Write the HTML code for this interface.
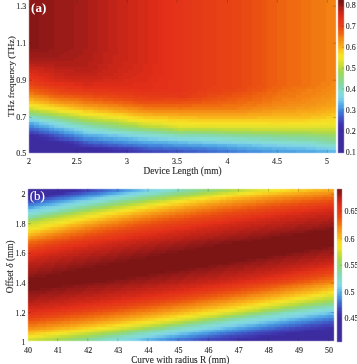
<!DOCTYPE html><html><head><meta charset="utf-8"><title>Figure</title><style>html,body{margin:0;padding:0;background:#fff}svg{display:block}text{font-family:"Liberation Serif",serif;fill:#262626;stroke:#262626;stroke-width:0.1px}</style></head><body><svg width="357" height="364" viewBox="0 0 357 364"><rect width="357" height="364" fill="#fff"/><defs><filter id="soft" x="-2%" y="-2%" width="104%" height="104%" color-interpolation-filters="sRGB"><feConvolveMatrix order="3" kernelMatrix="1 6 1 6 36 6 1 6 1" divisor="64" edgeMode="none" preserveAlpha="false"/></filter></defs><g shape-rendering="crispEdges" filter="url(#soft)"><path fill="#901918" d="M29 -4H53.76V3.054H29zM29 3.054H53.76V6.108H29zM33.95 6.108H53.76V9.162H33.95zM38.9 9.162H53.76V12.22H38.9zM38.9 12.22H53.76V15.27H38.9zM38.9 15.27H53.76V18.32H38.9zM38.9 18.32H53.76V21.38H38.9zM38.9 21.38H53.76V24.43H38.9zM38.9 24.43H53.76V27.49H38.9zM38.9 27.49H53.76V30.54H38.9zM38.9 30.54H53.76V33.59H38.9zM38.9 33.59H53.76V36.65H38.9zM38.9 36.65H53.76V39.7H38.9zM38.9 39.7H53.76V42.76H38.9zM38.9 42.76H53.76V45.81H38.9zM38.9 45.81H53.76V48.86H38.9zM29 48.86H48.81V51.92H29z"/><path fill="#9a1b18" d="M53.76 -4H73.56V3.054H53.76zM53.76 3.054H73.56V6.108H53.76zM53.76 6.108H73.56V9.162H53.76zM53.76 9.162H73.56V12.22H53.76zM53.76 12.22H73.56V15.27H53.76zM53.76 15.27H73.56V18.32H53.76zM53.76 18.32H73.56V21.38H53.76zM53.76 21.38H73.56V24.43H53.76zM53.76 24.43H73.56V27.49H53.76zM53.76 27.49H73.56V30.54H53.76zM53.76 30.54H73.56V33.59H53.76zM53.76 33.59H73.56V36.65H53.76zM53.76 36.65H73.56V39.7H53.76zM53.76 39.7H73.56V42.76H53.76zM53.76 42.76H73.56V45.81H53.76zM53.76 45.81H73.56V48.86H53.76zM48.81 48.86H68.61V51.92H48.81zM29 51.92H63.66V54.97H29zM29 54.97H58.71V58.03H29z"/><path fill="#a51d18" d="M73.56 -4H88.42V3.054H73.56zM73.56 3.054H88.42V6.108H73.56zM73.56 6.108H88.42V9.162H73.56zM73.56 9.162H88.42V12.22H73.56zM73.56 12.22H88.42V15.27H73.56zM73.56 15.27H88.42V18.32H73.56zM73.56 18.32H88.42V21.38H73.56zM73.56 21.38H88.42V24.43H73.56zM73.56 24.43H88.42V27.49H73.56zM73.56 27.49H88.42V30.54H73.56zM73.56 30.54H88.42V33.59H73.56zM73.56 33.59H88.42V36.65H73.56zM73.56 36.65H88.42V39.7H73.56zM73.56 39.7H88.42V42.76H73.56zM73.56 42.76H88.42V45.81H73.56zM73.56 45.81H88.42V48.86H73.56zM68.61 48.86H83.47V51.92H68.61zM63.66 51.92H83.47V54.97H63.66zM58.71 54.97H78.52V58.03H58.71zM29 58.03H73.56V61.08H29z"/><path fill="#af1f18" d="M88.42 -4H98.32V3.054H88.42zM88.42 3.054H98.32V6.108H88.42zM88.42 6.108H98.32V9.162H88.42zM88.42 9.162H98.32V12.22H88.42zM88.42 12.22H98.32V15.27H88.42zM88.42 15.27H98.32V18.32H88.42zM88.42 18.32H98.32V21.38H88.42zM88.42 21.38H98.32V24.43H88.42zM88.42 24.43H98.32V27.49H88.42zM88.42 27.49H98.32V30.54H88.42zM88.42 30.54H98.32V33.59H88.42zM88.42 33.59H98.32V36.65H88.42zM88.42 36.65H98.32V39.7H88.42zM88.42 39.7H98.32V42.76H88.42zM88.42 42.76H98.32V45.81H88.42zM88.42 45.81H98.32V48.86H88.42zM83.47 48.86H98.32V51.92H83.47zM83.47 51.92H93.37V54.97H83.47zM78.52 54.97H93.37V58.03H78.52zM73.56 58.03H93.37V61.08H73.56zM29 61.08H88.42V64.13H29zM53.76 64.13H88.42V67.19H53.76z"/><path fill="#b92118" d="M98.32 -4H108.2V3.054H98.32zM98.32 3.054H108.2V6.108H98.32zM98.32 6.108H108.2V9.162H98.32zM98.32 9.162H108.2V12.22H98.32zM98.32 12.22H108.2V15.27H98.32zM98.32 15.27H108.2V18.32H98.32zM98.32 18.32H108.2V21.38H98.32zM98.32 21.38H108.2V24.43H98.32zM98.32 24.43H108.2V27.49H98.32zM98.32 27.49H108.2V30.54H98.32zM98.32 30.54H108.2V33.59H98.32zM98.32 33.59H108.2V36.65H98.32zM98.32 36.65H108.2V39.7H98.32zM98.32 39.7H108.2V42.76H98.32zM98.32 42.76H108.2V45.81H98.32zM98.32 45.81H108.2V48.86H98.32zM98.32 48.86H108.2V51.92H98.32zM93.37 51.92H103.3V54.97H93.37zM93.37 54.97H103.3V58.03H93.37zM93.37 58.03H103.3V61.08H93.37zM88.42 61.08H103.3V64.13H88.42zM33.95 64.13H53.76V67.19H33.95zM88.42 64.13H98.32V67.19H88.42zM53.76 67.19H98.32V70.24H53.76zM73.56 70.24H93.37V73.3H73.56z"/><path fill="#c22318" d="M108.2 -4H118.1V3.054H108.2zM108.2 3.054H118.1V6.108H108.2zM108.2 6.108H118.1V9.162H108.2zM108.2 9.162H118.1V12.22H108.2zM108.2 12.22H118.1V15.27H108.2zM108.2 15.27H118.1V18.32H108.2zM108.2 18.32H118.1V21.38H108.2zM108.2 21.38H118.1V24.43H108.2zM108.2 24.43H118.1V27.49H108.2zM108.2 27.49H118.1V30.54H108.2zM108.2 30.54H118.1V33.59H108.2zM108.2 33.59H118.1V36.65H108.2zM108.2 36.65H118.1V39.7H108.2zM108.2 39.7H118.1V42.76H108.2zM108.2 42.76H118.1V45.81H108.2zM108.2 45.81H118.1V48.86H108.2zM108.2 48.86H118.1V51.92H108.2zM103.3 51.92H118.1V54.97H103.3zM103.3 54.97H113.2V58.03H103.3zM103.3 58.03H113.2V61.08H103.3zM103.3 61.08H113.2V64.13H103.3zM29 64.13H33.95V67.19H29zM98.32 64.13H108.2V67.19H98.32zM43.85 67.19H53.76V70.24H43.85zM98.32 67.19H108.2V70.24H98.32zM53.76 70.24H73.56V73.3H53.76zM93.37 70.24H103.3V73.3H93.37zM63.66 73.3H98.32V76.35H63.66z"/><path fill="#c92618" d="M118.1 -4H128V3.054H118.1zM118.1 3.054H128V6.108H118.1zM118.1 6.108H128V9.162H118.1zM118.1 9.162H128V12.22H118.1zM118.1 12.22H128V15.27H118.1zM118.1 15.27H128V18.32H118.1zM118.1 18.32H128V21.38H118.1zM118.1 21.38H128V24.43H118.1zM118.1 24.43H128V27.49H118.1zM118.1 27.49H128V30.54H118.1zM118.1 30.54H128V33.59H118.1zM118.1 33.59H128V36.65H118.1zM118.1 36.65H128V39.7H118.1zM118.1 39.7H128V42.76H118.1zM118.1 42.76H128V45.81H118.1zM118.1 45.81H128V48.86H118.1zM118.1 48.86H128V51.92H118.1zM118.1 51.92H128V54.97H118.1zM113.2 54.97H128V58.03H113.2zM113.2 58.03H128V61.08H113.2zM113.2 61.08H123.1V64.13H113.2zM108.2 64.13H123.1V67.19H108.2zM29 67.19H43.85V70.24H29zM108.2 67.19H118.1V70.24H108.2zM43.85 70.24H53.76V73.3H43.85zM103.3 70.24H118.1V73.3H103.3zM53.76 73.3H63.66V76.35H53.76zM98.32 73.3H113.2V76.35H98.32zM63.66 76.35H103.3V79.4H63.66z"/><path fill="#cf2818" d="M128 -4H137.9V3.054H128zM128 3.054H137.9V6.108H128zM128 6.108H137.9V9.162H128zM128 9.162H137.9V12.22H128zM128 12.22H137.9V15.27H128zM128 15.27H137.9V18.32H128zM128 18.32H137.9V21.38H128zM128 21.38H137.9V24.43H128zM128 24.43H137.9V27.49H128zM128 27.49H137.9V30.54H128zM128 30.54H137.9V33.59H128zM128 33.59H137.9V36.65H128zM128 36.65H137.9V39.7H128zM128 39.7H137.9V42.76H128zM128 42.76H137.9V45.81H128zM128 45.81H137.9V48.86H128zM128 48.86H137.9V51.92H128zM128 51.92H137.9V54.97H128zM128 54.97H137.9V58.03H128zM128 58.03H137.9V61.08H128zM123.1 61.08H137.9V64.13H123.1zM123.1 64.13H133V67.19H123.1zM118.1 67.19H133V70.24H118.1zM38.9 70.24H43.85V73.3H38.9zM118.1 70.24H128V73.3H118.1zM48.81 73.3H53.76V76.35H48.81zM113.2 73.3H123.1V76.35H113.2zM53.76 76.35H63.66V79.4H53.76zM103.3 76.35H118.1V79.4H103.3zM68.61 79.4H103.3V82.46H68.61z"/><path fill="#d52a18" d="M137.9 -4H147.8V3.054H137.9zM137.9 3.054H147.8V6.108H137.9zM137.9 6.108H147.8V9.162H137.9zM137.9 9.162H147.8V12.22H137.9zM137.9 12.22H147.8V15.27H137.9zM137.9 15.27H147.8V18.32H137.9zM137.9 18.32H147.8V21.38H137.9zM137.9 21.38H147.8V24.43H137.9zM137.9 24.43H147.8V27.49H137.9zM137.9 27.49H147.8V30.54H137.9zM137.9 30.54H147.8V33.59H137.9zM137.9 33.59H147.8V36.65H137.9zM137.9 36.65H147.8V39.7H137.9zM137.9 39.7H147.8V42.76H137.9zM137.9 42.76H147.8V45.81H137.9zM137.9 45.81H147.8V48.86H137.9zM137.9 48.86H147.8V51.92H137.9zM137.9 51.92H147.8V54.97H137.9zM137.9 54.97H147.8V58.03H137.9zM137.9 58.03H147.8V61.08H137.9zM137.9 61.08H147.8V64.13H137.9zM133 64.13H142.9V67.19H133zM133 67.19H142.9V70.24H133zM29 70.24H38.9V73.3H29zM128 70.24H142.9V73.3H128zM38.9 73.3H48.81V76.35H38.9zM123.1 73.3H137.9V76.35H123.1zM48.81 76.35H53.76V79.4H48.81zM118.1 76.35H133V79.4H118.1zM53.76 79.4H68.61V82.46H53.76zM103.3 79.4H123.1V82.46H103.3zM83.47 82.46H93.37V85.51H83.47z"/><path fill="#dc2c18" d="M147.8 -4H157.7V3.054H147.8zM147.8 3.054H157.7V6.108H147.8zM147.8 6.108H157.7V9.162H147.8zM147.8 9.162H157.7V12.22H147.8zM147.8 12.22H157.7V15.27H147.8zM147.8 15.27H157.7V18.32H147.8zM147.8 18.32H157.7V21.38H147.8zM147.8 21.38H157.7V24.43H147.8zM147.8 24.43H157.7V27.49H147.8zM147.8 27.49H157.7V30.54H147.8zM147.8 30.54H157.7V33.59H147.8zM147.8 33.59H157.7V36.65H147.8zM147.8 36.65H157.7V39.7H147.8zM147.8 39.7H157.7V42.76H147.8zM147.8 42.76H157.7V45.81H147.8zM147.8 45.81H157.7V48.86H147.8zM147.8 48.86H157.7V51.92H147.8zM147.8 51.92H157.7V54.97H147.8zM147.8 54.97H157.7V58.03H147.8zM147.8 58.03H157.7V61.08H147.8zM147.8 61.08H157.7V64.13H147.8zM142.9 64.13H152.8V67.19H142.9zM142.9 67.19H152.8V70.24H142.9zM142.9 70.24H152.8V73.3H142.9zM33.95 73.3H38.9V76.35H33.95zM137.9 73.3H152.8V76.35H137.9zM43.85 76.35H48.81V79.4H43.85zM133 76.35H147.8V79.4H133zM48.81 79.4H53.76V82.46H48.81zM123.1 79.4H147.8V82.46H123.1zM73.56 82.46H83.47V85.51H73.56zM93.37 82.46H133V85.51H93.37z"/><path fill="#e02e18" d="M157.7 -4H162.7V3.054H157.7zM157.7 3.054H162.7V6.108H157.7zM157.7 6.108H162.7V9.162H157.7zM157.7 9.162H162.7V12.22H157.7zM157.7 12.22H162.7V15.27H157.7zM157.7 15.27H162.7V18.32H157.7zM157.7 18.32H162.7V21.38H157.7zM157.7 21.38H162.7V24.43H157.7zM157.7 24.43H162.7V27.49H157.7zM157.7 27.49H162.7V30.54H157.7zM157.7 30.54H162.7V33.59H157.7zM157.7 33.59H162.7V36.65H157.7zM157.7 36.65H162.7V39.7H157.7zM157.7 39.7H162.7V42.76H157.7zM157.7 42.76H162.7V45.81H157.7zM157.7 45.81H162.7V48.86H157.7zM157.7 48.86H162.7V51.92H157.7zM157.7 51.92H162.7V54.97H157.7zM157.7 54.97H162.7V58.03H157.7zM157.7 58.03H162.7V61.08H157.7zM157.7 61.08H162.7V64.13H157.7zM152.8 64.13H162.7V67.19H152.8zM152.8 67.19H162.7V70.24H152.8zM152.8 70.24H162.7V73.3H152.8zM29 73.3H33.95V76.35H29zM152.8 73.3H162.7V76.35H152.8zM38.9 76.35H43.85V79.4H38.9zM147.8 76.35H157.7V79.4H147.8zM43.85 79.4H48.81V82.46H43.85zM147.8 79.4H157.7V82.46H147.8zM63.66 82.46H73.56V85.51H63.66zM133 82.46H152.8V85.51H133zM83.47 85.51H152.8V88.57H83.47z"/><path fill="#e43018" d="M162.7 -4H172.6V3.054H162.7zM162.7 3.054H172.6V6.108H162.7zM162.7 6.108H172.6V9.162H162.7zM162.7 9.162H172.6V12.22H162.7zM162.7 12.22H172.6V15.27H162.7zM162.7 15.27H172.6V18.32H162.7zM162.7 18.32H172.6V21.38H162.7zM162.7 21.38H172.6V24.43H162.7zM162.7 24.43H172.6V27.49H162.7zM162.7 27.49H172.6V30.54H162.7zM162.7 30.54H172.6V33.59H162.7zM162.7 33.59H172.6V36.65H162.7zM162.7 36.65H172.6V39.7H162.7zM162.7 39.7H172.6V42.76H162.7zM162.7 42.76H172.6V45.81H162.7zM162.7 45.81H172.6V48.86H162.7zM162.7 48.86H172.6V51.92H162.7zM162.7 51.92H172.6V54.97H162.7zM162.7 54.97H172.6V58.03H162.7zM162.7 58.03H172.6V61.08H162.7zM162.7 61.08H172.6V64.13H162.7zM162.7 64.13H172.6V67.19H162.7zM162.7 67.19H172.6V70.24H162.7zM162.7 70.24H172.6V73.3H162.7zM162.7 73.3H172.6V76.35H162.7zM33.95 76.35H38.9V79.4H33.95zM157.7 76.35H172.6V79.4H157.7zM38.9 79.4H43.85V82.46H38.9zM157.7 79.4H167.6V82.46H157.7zM53.76 82.46H63.66V85.51H53.76zM152.8 82.46H167.6V85.51H152.8zM78.52 85.51H83.47V88.57H78.52zM152.8 85.51H167.6V88.57H152.8zM137.9 88.57H152.8V91.62H137.9z"/><path fill="#e43318" d="M172.6 -4H182.5V3.054H172.6zM172.6 3.054H182.5V6.108H172.6zM172.6 6.108H182.5V9.162H172.6zM172.6 9.162H182.5V12.22H172.6zM172.6 12.22H182.5V15.27H172.6zM172.6 15.27H182.5V18.32H172.6zM172.6 18.32H182.5V21.38H172.6zM172.6 21.38H182.5V24.43H172.6zM172.6 24.43H182.5V27.49H172.6zM172.6 27.49H182.5V30.54H172.6zM172.6 30.54H182.5V33.59H172.6zM172.6 33.59H182.5V36.65H172.6zM172.6 36.65H182.5V39.7H172.6zM172.6 39.7H182.5V42.76H172.6zM172.6 42.76H182.5V45.81H172.6zM172.6 45.81H182.5V48.86H172.6zM172.6 48.86H182.5V51.92H172.6zM172.6 51.92H182.5V54.97H172.6zM172.6 54.97H182.5V58.03H172.6zM172.6 58.03H182.5V61.08H172.6zM172.6 61.08H182.5V64.13H172.6zM172.6 64.13H182.5V67.19H172.6zM172.6 67.19H182.5V70.24H172.6zM172.6 70.24H182.5V73.3H172.6zM172.6 73.3H182.5V76.35H172.6zM29 76.35H33.95V79.4H29zM172.6 76.35H182.5V79.4H172.6zM167.6 79.4H182.5V82.46H167.6zM48.81 82.46H53.76V85.51H48.81zM167.6 82.46H182.5V85.51H167.6zM68.61 85.51H78.52V88.57H68.61zM167.6 85.51H182.5V88.57H167.6zM108.2 88.57H137.9V91.62H108.2zM152.8 88.57H182.5V91.62H152.8z"/><path fill="#e43618" d="M182.5 -4H192.4V3.054H182.5zM182.5 3.054H192.4V6.108H182.5zM182.5 6.108H192.4V9.162H182.5zM182.5 9.162H192.4V12.22H182.5zM182.5 12.22H192.4V15.27H182.5zM182.5 15.27H192.4V18.32H182.5zM182.5 18.32H192.4V21.38H182.5zM182.5 21.38H192.4V24.43H182.5zM182.5 24.43H192.4V27.49H182.5zM182.5 27.49H192.4V30.54H182.5zM182.5 30.54H192.4V33.59H182.5zM182.5 33.59H192.4V36.65H182.5zM182.5 36.65H192.4V39.7H182.5zM182.5 39.7H192.4V42.76H182.5zM182.5 42.76H192.4V45.81H182.5zM182.5 45.81H192.4V48.86H182.5zM182.5 48.86H192.4V51.92H182.5zM182.5 51.92H192.4V54.97H182.5zM182.5 54.97H192.4V58.03H182.5zM182.5 58.03H192.4V61.08H182.5zM182.5 61.08H192.4V64.13H182.5zM182.5 64.13H192.4V67.19H182.5zM182.5 67.19H192.4V70.24H182.5zM182.5 70.24H192.4V73.3H182.5zM182.5 73.3H192.4V76.35H182.5zM182.5 76.35H192.4V79.4H182.5zM33.95 79.4H38.9V82.46H33.95zM182.5 79.4H192.4V82.46H182.5zM43.85 82.46H48.81V85.51H43.85zM182.5 82.46H192.4V85.51H182.5zM63.66 85.51H68.61V88.57H63.66zM182.5 85.51H192.4V88.57H182.5zM83.47 88.57H108.2V91.62H83.47zM182.5 88.57H187.5V91.62H182.5zM133 91.62H182.5V94.67H133zM177.5 94.67H182.5V97.73H177.5z"/><path fill="#e53a17" d="M192.4 -4H202.3V3.054H192.4zM192.4 3.054H202.3V6.108H192.4zM192.4 6.108H202.3V9.162H192.4zM192.4 9.162H202.3V12.22H192.4zM192.4 12.22H202.3V15.27H192.4zM192.4 15.27H202.3V18.32H192.4zM192.4 18.32H202.3V21.38H192.4zM192.4 21.38H202.3V24.43H192.4zM192.4 24.43H202.3V27.49H192.4zM192.4 27.49H202.3V30.54H192.4zM192.4 30.54H202.3V33.59H192.4zM192.4 33.59H202.3V36.65H192.4zM192.4 36.65H202.3V39.7H192.4zM192.4 39.7H202.3V42.76H192.4zM192.4 42.76H202.3V45.81H192.4zM192.4 45.81H202.3V48.86H192.4zM192.4 48.86H202.3V51.92H192.4zM192.4 51.92H202.3V54.97H192.4zM192.4 54.97H202.3V58.03H192.4zM192.4 58.03H202.3V61.08H192.4zM192.4 61.08H202.3V64.13H192.4zM192.4 64.13H202.3V67.19H192.4zM192.4 67.19H202.3V70.24H192.4zM192.4 70.24H202.3V73.3H192.4zM192.4 73.3H202.3V76.35H192.4zM192.4 76.35H202.3V79.4H192.4zM29 79.4H33.95V82.46H29zM192.4 79.4H202.3V82.46H192.4zM38.9 82.46H43.85V85.51H38.9zM192.4 82.46H202.3V85.51H192.4zM53.76 85.51H63.66V88.57H53.76zM192.4 85.51H202.3V88.57H192.4zM73.56 88.57H83.47V91.62H73.56zM187.5 88.57H197.4V91.62H187.5zM113.2 91.62H133V94.67H113.2zM182.5 91.62H192.4V94.67H182.5zM147.8 94.67H177.5V97.73H147.8zM182.5 94.67H187.5V97.73H182.5z"/><path fill="#e63d16" d="M202.3 -4H217.2V3.054H202.3zM202.3 3.054H217.2V6.108H202.3zM202.3 6.108H217.2V9.162H202.3zM202.3 9.162H217.2V12.22H202.3zM202.3 12.22H217.2V15.27H202.3zM202.3 15.27H217.2V18.32H202.3zM202.3 18.32H217.2V21.38H202.3zM202.3 21.38H217.2V24.43H202.3zM202.3 24.43H217.2V27.49H202.3zM202.3 27.49H217.2V30.54H202.3zM202.3 30.54H217.2V33.59H202.3zM202.3 33.59H217.2V36.65H202.3zM202.3 36.65H217.2V39.7H202.3zM202.3 39.7H217.2V42.76H202.3zM202.3 42.76H217.2V45.81H202.3zM202.3 45.81H217.2V48.86H202.3zM202.3 48.86H217.2V51.92H202.3zM202.3 51.92H217.2V54.97H202.3zM202.3 54.97H217.2V58.03H202.3zM202.3 58.03H217.2V61.08H202.3zM202.3 61.08H217.2V64.13H202.3zM202.3 64.13H217.2V67.19H202.3zM202.3 67.19H217.2V70.24H202.3zM202.3 70.24H217.2V73.3H202.3zM202.3 73.3H217.2V76.35H202.3zM202.3 76.35H217.2V79.4H202.3zM202.3 79.4H217.2V82.46H202.3zM33.95 82.46H38.9V85.51H33.95zM202.3 82.46H217.2V85.51H202.3zM48.81 85.51H53.76V88.57H48.81zM202.3 85.51H212.2V88.57H202.3zM63.66 88.57H73.56V91.62H63.66zM197.4 88.57H207.3V91.62H197.4zM93.37 91.62H113.2V94.67H93.37zM192.4 91.62H197.4V94.67H192.4zM133 94.67H147.8V97.73H133zM187.5 94.67H192.4V97.73H187.5z"/><path fill="#e74115" d="M217.2 -4H232V3.054H217.2zM217.2 3.054H232V6.108H217.2zM217.2 6.108H232V9.162H217.2zM217.2 9.162H232V12.22H217.2zM217.2 12.22H232V15.27H217.2zM217.2 15.27H232V18.32H217.2zM217.2 18.32H232V21.38H217.2zM217.2 21.38H232V24.43H217.2zM217.2 24.43H232V27.49H217.2zM217.2 27.49H232V30.54H217.2zM217.2 30.54H232V33.59H217.2zM217.2 33.59H232V36.65H217.2zM217.2 36.65H232V39.7H217.2zM217.2 39.7H232V42.76H217.2zM217.2 42.76H232V45.81H217.2zM217.2 45.81H232V48.86H217.2zM217.2 48.86H232V51.92H217.2zM217.2 51.92H232V54.97H217.2zM217.2 54.97H232V58.03H217.2zM217.2 58.03H232V61.08H217.2zM217.2 61.08H232V64.13H217.2zM217.2 64.13H232V67.19H217.2zM217.2 67.19H232V70.24H217.2zM217.2 70.24H232V73.3H217.2zM217.2 73.3H232V76.35H217.2zM217.2 76.35H232V79.4H217.2zM217.2 79.4H232V82.46H217.2zM29 82.46H33.95V85.51H29zM217.2 82.46H232V85.51H217.2zM43.85 85.51H48.81V88.57H43.85zM212.2 85.51H232V88.57H212.2zM58.71 88.57H63.66V91.62H58.71zM207.3 88.57H222.1V91.62H207.3zM78.52 91.62H93.37V94.67H78.52zM197.4 91.62H207.3V94.67H197.4zM118.1 94.67H133V97.73H118.1zM192.4 94.67H202.3V97.73H192.4zM142.9 97.73H162.7V100.8H142.9z"/><path fill="#e84514" d="M232 -4H241.9V3.054H232zM232 3.054H241.9V6.108H232zM232 6.108H241.9V9.162H232zM232 9.162H241.9V12.22H232zM232 12.22H241.9V15.27H232zM232 15.27H241.9V18.32H232zM232 18.32H241.9V21.38H232zM232 21.38H241.9V24.43H232zM232 24.43H241.9V27.49H232zM232 27.49H241.9V30.54H232zM232 30.54H241.9V33.59H232zM232 33.59H241.9V36.65H232zM232 36.65H241.9V39.7H232zM232 39.7H241.9V42.76H232zM232 42.76H241.9V45.81H232zM232 45.81H241.9V48.86H232zM232 48.86H241.9V51.92H232zM232 51.92H241.9V54.97H232zM232 54.97H241.9V58.03H232zM232 58.03H241.9V61.08H232zM232 61.08H241.9V64.13H232zM232 64.13H241.9V67.19H232zM232 67.19H241.9V70.24H232zM232 70.24H241.9V73.3H232zM232 73.3H241.9V76.35H232zM232 76.35H241.9V79.4H232zM232 79.4H241.9V82.46H232zM232 82.46H241.9V85.51H232zM38.9 85.51H43.85V88.57H38.9zM232 85.51H241.9V88.57H232zM53.76 88.57H58.71V91.62H53.76zM222.1 88.57H237V91.62H222.1zM68.61 91.62H78.52V94.67H68.61zM207.3 91.62H222.1V94.67H207.3zM108.2 94.67H118.1V97.73H108.2zM202.3 94.67H207.3V97.73H202.3zM133 97.73H142.9V100.8H133zM162.7 97.73H187.5V100.8H162.7z"/><path fill="#e94a13" d="M241.9 -4H251.8V3.054H241.9zM241.9 3.054H251.8V6.108H241.9zM241.9 6.108H251.8V9.162H241.9zM241.9 9.162H251.8V12.22H241.9zM241.9 12.22H251.8V15.27H241.9zM241.9 15.27H251.8V18.32H241.9zM241.9 18.32H251.8V21.38H241.9zM241.9 21.38H251.8V24.43H241.9zM241.9 24.43H251.8V27.49H241.9zM241.9 27.49H251.8V30.54H241.9zM241.9 30.54H251.8V33.59H241.9zM241.9 33.59H251.8V36.65H241.9zM241.9 36.65H251.8V39.7H241.9zM241.9 39.7H251.8V42.76H241.9zM241.9 42.76H251.8V45.81H241.9zM241.9 45.81H251.8V48.86H241.9zM241.9 48.86H251.8V51.92H241.9zM241.9 51.92H251.8V54.97H241.9zM241.9 54.97H251.8V58.03H241.9zM241.9 58.03H251.8V61.08H241.9zM241.9 61.08H251.8V64.13H241.9zM241.9 64.13H251.8V67.19H241.9zM241.9 67.19H251.8V70.24H241.9zM241.9 70.24H251.8V73.3H241.9zM241.9 73.3H251.8V76.35H241.9zM241.9 76.35H251.8V79.4H241.9zM241.9 79.4H251.8V82.46H241.9zM241.9 82.46H251.8V85.51H241.9zM33.95 85.51H38.9V88.57H33.95zM241.9 85.51H246.9V88.57H241.9zM48.81 88.57H53.76V91.62H48.81zM237 88.57H246.9V91.62H237zM58.71 91.62H68.61V94.67H58.71zM222.1 91.62H232V94.67H222.1zM93.37 94.67H108.2V97.73H93.37zM207.3 94.67H217.2V97.73H207.3zM123.1 97.73H133V100.8H123.1zM187.5 97.73H202.3V100.8H187.5z"/><path fill="#ea5012" d="M251.8 -4H261.7V3.054H251.8zM251.8 3.054H261.7V6.108H251.8zM251.8 6.108H261.7V9.162H251.8zM251.8 9.162H261.7V12.22H251.8zM251.8 12.22H261.7V15.27H251.8zM251.8 15.27H261.7V18.32H251.8zM251.8 18.32H261.7V21.38H251.8zM251.8 21.38H261.7V24.43H251.8zM251.8 24.43H261.7V27.49H251.8zM251.8 27.49H261.7V30.54H251.8zM251.8 30.54H261.7V33.59H251.8zM251.8 33.59H261.7V36.65H251.8zM251.8 36.65H261.7V39.7H251.8zM251.8 39.7H261.7V42.76H251.8zM251.8 42.76H261.7V45.81H251.8zM251.8 45.81H261.7V48.86H251.8zM251.8 48.86H261.7V51.92H251.8zM251.8 51.92H261.7V54.97H251.8zM251.8 54.97H261.7V58.03H251.8zM251.8 58.03H261.7V61.08H251.8zM251.8 61.08H261.7V64.13H251.8zM251.8 64.13H261.7V67.19H251.8zM251.8 67.19H261.7V70.24H251.8zM251.8 70.24H261.7V73.3H251.8zM251.8 73.3H261.7V76.35H251.8zM251.8 76.35H261.7V79.4H251.8zM251.8 79.4H261.7V82.46H251.8zM251.8 82.46H261.7V85.51H251.8zM29 85.51H33.95V88.57H29zM246.9 85.51H256.8V88.57H246.9zM43.85 88.57H48.81V91.62H43.85zM246.9 88.57H251.8V91.62H246.9zM53.76 91.62H58.71V94.67H53.76zM232 91.62H241.9V94.67H232zM83.47 94.67H93.37V97.73H83.47zM217.2 94.67H232V97.73H217.2zM113.2 97.73H123.1V100.8H113.2zM202.3 97.73H212.2V100.8H202.3zM137.9 100.8H182.5V103.8H137.9z"/><path fill="#eb5511" d="M261.7 -4H266.7V3.054H261.7zM261.7 3.054H266.7V6.108H261.7zM261.7 6.108H266.7V9.162H261.7zM261.7 9.162H266.7V12.22H261.7zM261.7 12.22H266.7V15.27H261.7zM261.7 15.27H266.7V18.32H261.7zM261.7 18.32H266.7V21.38H261.7zM261.7 21.38H266.7V24.43H261.7zM261.7 24.43H266.7V27.49H261.7zM261.7 27.49H266.7V30.54H261.7zM261.7 30.54H266.7V33.59H261.7zM261.7 33.59H266.7V36.65H261.7zM261.7 36.65H266.7V39.7H261.7zM261.7 39.7H266.7V42.76H261.7zM261.7 42.76H266.7V45.81H261.7zM261.7 45.81H266.7V48.86H261.7zM261.7 48.86H266.7V51.92H261.7zM261.7 51.92H266.7V54.97H261.7zM261.7 54.97H266.7V58.03H261.7zM261.7 58.03H266.7V61.08H261.7zM261.7 61.08H266.7V64.13H261.7zM261.7 64.13H266.7V67.19H261.7zM261.7 67.19H266.7V70.24H261.7zM261.7 70.24H266.7V73.3H261.7zM261.7 73.3H266.7V76.35H261.7zM261.7 76.35H266.7V79.4H261.7zM261.7 79.4H266.7V82.46H261.7zM261.7 82.46H266.7V85.51H261.7zM256.8 85.51H266.7V88.57H256.8zM38.9 88.57H43.85V91.62H38.9zM251.8 88.57H261.7V91.62H251.8zM48.81 91.62H53.76V94.67H48.81zM241.9 91.62H251.8V94.67H241.9zM73.56 94.67H83.47V97.73H73.56zM232 94.67H241.9V97.73H232zM103.3 97.73H113.2V100.8H103.3zM212.2 97.73H227.1V100.8H212.2zM133 100.8H137.9V103.8H133zM182.5 100.8H202.3V103.8H182.5z"/><path fill="#ed5c10" d="M266.7 -4H276.6V3.054H266.7zM266.7 3.054H276.6V6.108H266.7zM266.7 6.108H276.6V9.162H266.7zM266.7 9.162H276.6V12.22H266.7zM266.7 12.22H276.6V15.27H266.7zM266.7 15.27H276.6V18.32H266.7zM266.7 18.32H276.6V21.38H266.7zM266.7 21.38H276.6V24.43H266.7zM266.7 24.43H276.6V27.49H266.7zM266.7 27.49H276.6V30.54H266.7zM266.7 30.54H276.6V33.59H266.7zM266.7 33.59H276.6V36.65H266.7zM266.7 36.65H276.6V39.7H266.7zM266.7 39.7H276.6V42.76H266.7zM266.7 42.76H276.6V45.81H266.7zM266.7 45.81H276.6V48.86H266.7zM266.7 48.86H276.6V51.92H266.7zM266.7 51.92H276.6V54.97H266.7zM266.7 54.97H276.6V58.03H266.7zM266.7 58.03H276.6V61.08H266.7zM266.7 61.08H276.6V64.13H266.7zM266.7 64.13H276.6V67.19H266.7zM266.7 67.19H276.6V70.24H266.7zM266.7 70.24H276.6V73.3H266.7zM266.7 73.3H276.6V76.35H266.7zM266.7 76.35H276.6V79.4H266.7zM266.7 79.4H276.6V82.46H266.7zM266.7 82.46H276.6V85.51H266.7zM266.7 85.51H271.6V88.57H266.7zM33.95 88.57H38.9V91.62H33.95zM261.7 88.57H266.7V91.62H261.7zM43.85 91.62H48.81V94.67H43.85zM251.8 91.62H256.8V94.67H251.8zM63.66 94.67H73.56V97.73H63.66zM241.9 94.67H251.8V97.73H241.9zM93.37 97.73H103.3V100.8H93.37zM227.1 97.73H237V100.8H227.1zM123.1 100.8H133V103.8H123.1zM202.3 100.8H217.2V103.8H202.3z"/><path fill="#ee6310" d="M276.6 -4H286.5V3.054H276.6zM276.6 3.054H286.5V6.108H276.6zM276.6 6.108H286.5V9.162H276.6zM276.6 9.162H286.5V12.22H276.6zM276.6 12.22H286.5V15.27H276.6zM276.6 15.27H286.5V18.32H276.6zM276.6 18.32H286.5V21.38H276.6zM276.6 21.38H286.5V24.43H276.6zM276.6 24.43H286.5V27.49H276.6zM276.6 27.49H286.5V30.54H276.6zM276.6 30.54H286.5V33.59H276.6zM276.6 33.59H286.5V36.65H276.6zM276.6 36.65H286.5V39.7H276.6zM276.6 39.7H286.5V42.76H276.6zM276.6 42.76H286.5V45.81H276.6zM276.6 45.81H286.5V48.86H276.6zM276.6 48.86H286.5V51.92H276.6zM276.6 51.92H286.5V54.97H276.6zM276.6 54.97H286.5V58.03H276.6zM276.6 58.03H286.5V61.08H276.6zM276.6 61.08H286.5V64.13H276.6zM276.6 64.13H286.5V67.19H276.6zM276.6 67.19H286.5V70.24H276.6zM276.6 70.24H286.5V73.3H276.6zM276.6 73.3H286.5V76.35H276.6zM276.6 76.35H286.5V79.4H276.6zM276.6 79.4H286.5V82.46H276.6zM276.6 82.46H286.5V85.51H276.6zM271.6 85.51H281.5V88.57H271.6zM29 88.57H33.95V91.62H29zM266.7 88.57H276.6V91.62H266.7zM38.9 91.62H43.85V94.67H38.9zM256.8 91.62H266.7V94.67H256.8zM53.76 94.67H63.66V97.73H53.76zM251.8 94.67H261.7V97.73H251.8zM83.47 97.73H93.37V100.8H83.47zM237 97.73H251.8V100.8H237zM113.2 100.8H123.1V103.8H113.2zM217.2 100.8H237V103.8H217.2zM142.9 103.8H192.4V106.9H142.9z"/><path fill="#ef6a10" d="M286.5 -4H301.3V3.054H286.5zM286.5 3.054H301.3V6.108H286.5zM286.5 6.108H301.3V9.162H286.5zM286.5 9.162H301.3V12.22H286.5zM286.5 12.22H301.3V15.27H286.5zM286.5 15.27H301.3V18.32H286.5zM286.5 18.32H301.3V21.38H286.5zM286.5 21.38H301.3V24.43H286.5zM286.5 24.43H301.3V27.49H286.5zM286.5 27.49H301.3V30.54H286.5zM286.5 30.54H301.3V33.59H286.5zM286.5 33.59H301.3V36.65H286.5zM286.5 36.65H301.3V39.7H286.5zM286.5 39.7H301.3V42.76H286.5zM286.5 42.76H301.3V45.81H286.5zM286.5 45.81H301.3V48.86H286.5zM286.5 48.86H301.3V51.92H286.5zM286.5 51.92H301.3V54.97H286.5zM286.5 54.97H301.3V58.03H286.5zM286.5 58.03H301.3V61.08H286.5zM286.5 61.08H301.3V64.13H286.5zM286.5 64.13H301.3V67.19H286.5zM286.5 67.19H301.3V70.24H286.5zM286.5 70.24H301.3V73.3H286.5zM286.5 73.3H301.3V76.35H286.5zM286.5 76.35H301.3V79.4H286.5zM286.5 79.4H301.3V82.46H286.5zM286.5 82.46H301.3V85.51H286.5zM281.5 85.51H291.4V88.57H281.5zM276.6 88.57H281.5V91.62H276.6zM33.95 91.62H38.9V94.67H33.95zM266.7 91.62H276.6V94.67H266.7zM48.81 94.67H53.76V97.73H48.81zM261.7 94.67H271.6V97.73H261.7zM78.52 97.73H83.47V100.8H78.52zM251.8 97.73H261.7V100.8H251.8zM103.3 100.8H113.2V103.8H103.3zM237 100.8H246.9V103.8H237zM133 103.8H142.9V106.9H133zM192.4 103.8H222.1V106.9H192.4z"/><path fill="#f07210" d="M301.3 -4H311.2V3.054H301.3zM301.3 3.054H311.2V6.108H301.3zM301.3 6.108H311.2V9.162H301.3zM301.3 9.162H311.2V12.22H301.3zM301.3 12.22H311.2V15.27H301.3zM301.3 15.27H311.2V18.32H301.3zM301.3 18.32H311.2V21.38H301.3zM301.3 21.38H311.2V24.43H301.3zM301.3 24.43H311.2V27.49H301.3zM301.3 27.49H311.2V30.54H301.3zM301.3 30.54H311.2V33.59H301.3zM301.3 33.59H311.2V36.65H301.3zM301.3 36.65H311.2V39.7H301.3zM301.3 39.7H311.2V42.76H301.3zM301.3 42.76H311.2V45.81H301.3zM301.3 45.81H311.2V48.86H301.3zM301.3 48.86H311.2V51.92H301.3zM301.3 51.92H311.2V54.97H301.3zM301.3 54.97H311.2V58.03H301.3zM301.3 58.03H311.2V61.08H301.3zM301.3 61.08H311.2V64.13H301.3zM301.3 64.13H311.2V67.19H301.3zM301.3 67.19H311.2V70.24H301.3zM301.3 70.24H311.2V73.3H301.3zM301.3 73.3H311.2V76.35H301.3zM301.3 76.35H311.2V79.4H301.3zM301.3 79.4H311.2V82.46H301.3zM301.3 82.46H311.2V85.51H301.3zM291.4 85.51H306.3V88.57H291.4zM281.5 88.57H296.4V91.62H281.5zM276.6 91.62H286.5V94.67H276.6zM271.6 94.67H276.6V97.73H271.6zM68.61 97.73H78.52V100.8H68.61zM261.7 97.73H271.6V100.8H261.7zM93.37 100.8H103.3V103.8H93.37zM246.9 100.8H261.7V103.8H246.9zM123.1 103.8H133V106.9H123.1zM222.1 103.8H241.9V106.9H222.1zM177.5 106.9H182.5V109.9H177.5z"/><path fill="#f17911" d="M311.2 -4H326.1V3.054H311.2zM311.2 3.054H326.1V6.108H311.2zM311.2 6.108H326.1V9.162H311.2zM311.2 9.162H326.1V12.22H311.2zM311.2 12.22H326.1V15.27H311.2zM311.2 15.27H326.1V18.32H311.2zM311.2 18.32H326.1V21.38H311.2zM311.2 21.38H326.1V24.43H311.2zM311.2 24.43H326.1V27.49H311.2zM311.2 27.49H326.1V30.54H311.2zM311.2 30.54H326.1V33.59H311.2zM311.2 33.59H326.1V36.65H311.2zM311.2 36.65H326.1V39.7H311.2zM311.2 39.7H326.1V42.76H311.2zM311.2 42.76H326.1V45.81H311.2zM311.2 45.81H326.1V48.86H311.2zM311.2 48.86H326.1V51.92H311.2zM311.2 51.92H326.1V54.97H311.2zM311.2 54.97H326.1V58.03H311.2zM311.2 58.03H326.1V61.08H311.2zM311.2 61.08H326.1V64.13H311.2zM311.2 64.13H326.1V67.19H311.2zM311.2 67.19H326.1V70.24H311.2zM311.2 70.24H326.1V73.3H311.2zM311.2 73.3H326.1V76.35H311.2zM311.2 76.35H326.1V79.4H311.2zM311.2 79.4H326.1V82.46H311.2zM311.2 82.46H321.1V85.51H311.2zM306.3 85.51H316.2V88.57H306.3zM296.4 88.57H306.3V91.62H296.4zM29 91.62H33.95V94.67H29zM286.5 91.62H301.3V94.67H286.5zM43.85 94.67H48.81V97.73H43.85zM276.6 94.67H296.4V97.73H276.6zM58.71 97.73H68.61V100.8H58.71zM271.6 97.73H281.5V100.8H271.6zM83.47 100.8H93.37V103.8H83.47zM261.7 100.8H271.6V103.8H261.7zM118.1 103.8H123.1V106.9H118.1zM241.9 103.8H256.8V106.9H241.9zM142.9 106.9H177.5V109.9H142.9zM182.5 106.9H237V109.9H182.5z"/><path fill="#f38113" d="M326.1 -4H336V3.054H326.1zM326.1 3.054H336V6.108H326.1zM326.1 6.108H336V9.162H326.1zM326.1 9.162H336V12.22H326.1zM326.1 12.22H336V15.27H326.1zM326.1 15.27H336V18.32H326.1zM326.1 18.32H336V21.38H326.1zM326.1 21.38H336V24.43H326.1zM326.1 24.43H336V27.49H326.1zM326.1 27.49H336V30.54H326.1zM326.1 30.54H336V33.59H326.1zM326.1 33.59H336V36.65H326.1zM326.1 36.65H336V39.7H326.1zM326.1 39.7H336V42.76H326.1zM326.1 42.76H336V45.81H326.1zM326.1 45.81H336V48.86H326.1zM326.1 48.86H336V51.92H326.1zM326.1 51.92H336V54.97H326.1zM326.1 54.97H336V58.03H326.1zM326.1 58.03H336V61.08H326.1zM326.1 61.08H336V64.13H326.1zM326.1 64.13H336V67.19H326.1zM326.1 67.19H336V70.24H326.1zM326.1 70.24H336V73.3H326.1zM326.1 73.3H336V76.35H326.1zM326.1 76.35H336V79.4H326.1zM326.1 79.4H336V82.46H326.1zM321.1 82.46H331V85.51H321.1zM316.2 85.51H326.1V88.57H316.2zM306.3 88.57H321.1V91.62H306.3zM301.3 91.62H316.2V94.67H301.3zM38.9 94.67H43.85V97.73H38.9zM296.4 94.67H311.2V97.73H296.4zM53.76 97.73H58.71V100.8H53.76zM281.5 97.73H301.3V100.8H281.5zM78.52 100.8H83.47V103.8H78.52zM271.6 100.8H286.5V103.8H271.6zM108.2 103.8H118.1V106.9H108.2zM256.8 103.8H271.6V106.9H256.8zM137.9 106.9H142.9V109.9H137.9zM237 106.9H251.8V109.9H237z"/><path fill="#871717" d="M29 6.108H33.95V9.162H29zM29 9.162H38.9V12.22H29zM29 12.22H38.9V15.27H29zM29 15.27H38.9V18.32H29zM29 18.32H38.9V21.38H29zM29 21.38H38.9V24.43H29zM29 24.43H38.9V27.49H29zM29 27.49H38.9V30.54H29zM29 30.54H38.9V33.59H29zM29 33.59H38.9V36.65H29zM29 36.65H38.9V39.7H29zM29 39.7H38.9V42.76H29zM29 42.76H38.9V45.81H29zM29 45.81H38.9V48.86H29z"/><path fill="#f48914" d="M331 82.46H336V85.51H331zM326.1 85.51H336V88.57H326.1zM321.1 88.57H331V91.62H321.1zM316.2 91.62H326.1V94.67H316.2zM33.95 94.67H38.9V97.73H33.95zM311.2 94.67H321.1V97.73H311.2zM48.81 97.73H53.76V100.8H48.81zM301.3 97.73H311.2V100.8H301.3zM73.56 100.8H78.52V103.8H73.56zM286.5 100.8H306.3V103.8H286.5zM98.32 103.8H108.2V106.9H98.32zM271.6 103.8H286.5V106.9H271.6zM128 106.9H137.9V109.9H128zM251.8 106.9H261.7V109.9H251.8z"/><path fill="#f48f16" d="M331 88.57H336V91.62H331zM326.1 91.62H336V94.67H326.1zM29 94.67H33.95V97.73H29zM321.1 94.67H331V97.73H321.1zM311.2 97.73H321.1V100.8H311.2zM63.66 100.8H73.56V103.8H63.66zM306.3 100.8H316.2V103.8H306.3zM88.42 103.8H98.32V106.9H88.42zM286.5 103.8H301.3V106.9H286.5zM123.1 106.9H128V109.9H123.1zM261.7 106.9H276.6V109.9H261.7zM147.8 109.9H246.9V113H147.8z"/><path fill="#f49517" d="M331 94.67H336V97.73H331zM43.85 97.73H48.81V100.8H43.85zM321.1 97.73H331V100.8H321.1zM58.71 100.8H63.66V103.8H58.71zM316.2 100.8H326.1V103.8H316.2zM83.47 103.8H88.42V106.9H83.47zM301.3 103.8H316.2V106.9H301.3zM113.2 106.9H123.1V109.9H113.2zM276.6 106.9H296.4V109.9H276.6zM137.9 109.9H147.8V113H137.9zM246.9 109.9H261.7V113H246.9z"/><path fill="#f8ae19" d="M29 97.73H33.95V100.8H29zM43.85 100.8H48.81V103.8H43.85zM63.66 103.8H68.61V106.9H63.66zM83.47 106.9H93.37V109.9H83.47zM331 106.9H336V109.9H331zM113.2 109.9H118.1V113H113.2zM316.2 109.9H326.1V113H316.2zM142.9 113H152.8V116.1H142.9zM271.6 113H301.3V116.1H271.6z"/><path fill="#f6a118" d="M33.95 97.73H38.9V100.8H33.95zM48.81 100.8H53.76V103.8H48.81zM73.56 103.8H78.52V106.9H73.56zM326.1 103.8H336V106.9H326.1zM98.32 106.9H108.2V109.9H98.32zM311.2 106.9H321.1V109.9H311.2zM128 109.9H133V113H128zM271.6 109.9H296.4V113H271.6zM177.5 113H246.9V116.1H177.5z"/><path fill="#f59b18" d="M38.9 97.73H43.85V100.8H38.9zM331 97.73H336V100.8H331zM53.76 100.8H58.71V103.8H53.76zM326.1 100.8H336V103.8H326.1zM78.52 103.8H83.47V106.9H78.52zM316.2 103.8H326.1V106.9H316.2zM108.2 106.9H113.2V109.9H108.2zM296.4 106.9H311.2V109.9H296.4zM133 109.9H137.9V113H133zM261.7 109.9H271.6V113H261.7z"/><path fill="#f8c71f" d="M29 100.8H33.95V103.8H29zM48.81 103.8H53.76V106.9H48.81zM68.61 106.9H73.56V109.9H68.61zM93.37 109.9H98.32V113H93.37zM123.1 113H128V116.1H123.1zM331 113H336V116.1H331zM142.9 116.1H167.6V119.1H142.9zM311.2 116.1H326.1V119.1H311.2z"/><path fill="#f8bd1c" d="M33.95 100.8H38.9V103.8H33.95zM53.76 103.8H58.71V106.9H53.76zM73.56 106.9H78.52V109.9H73.56zM98.32 109.9H108.2V113H98.32zM128 113H133V116.1H128zM321.1 113H331V116.1H321.1zM167.6 116.1H197.4V119.1H167.6zM256.8 116.1H311.2V119.1H256.8z"/><path fill="#f8b51b" d="M38.9 100.8H43.85V103.8H38.9zM58.71 103.8H63.66V106.9H58.71zM78.52 106.9H83.47V109.9H78.52zM108.2 109.9H113.2V113H108.2zM326.1 109.9H336V113H326.1zM133 113H142.9V116.1H133zM301.3 113H321.1V116.1H301.3zM197.4 116.1H256.8V119.1H197.4z"/><path fill="#f6e126" d="M29 103.8H33.95V106.9H29zM48.81 106.9H53.76V109.9H48.81zM73.56 109.9H78.52V113H73.56zM93.37 113H103.3V116.1H93.37zM123.1 116.1H128V119.1H123.1zM142.9 119.1H152.8V122.2H142.9zM197.4 122.2H266.7V125.2H197.4zM286.5 122.2H311.2V125.2H286.5z"/><path fill="#f7dd25" d="M33.95 103.8H38.9V106.9H33.95zM53.76 106.9H58.71V109.9H53.76zM78.52 109.9H83.47V113H78.52zM103.3 113H108.2V116.1H103.3zM128 116.1H133V119.1H128zM152.8 119.1H167.6V122.2H152.8zM321.1 119.1H336V122.2H321.1zM266.7 122.2H286.5V125.2H266.7z"/><path fill="#f8d723" d="M38.9 103.8H43.85V106.9H38.9zM58.71 106.9H63.66V109.9H58.71zM108.2 113H113.2V116.1H108.2zM133 116.1H137.9V119.1H133zM167.6 119.1H187.5V122.2H167.6zM306.3 119.1H321.1V122.2H306.3z"/><path fill="#f8d021" d="M43.85 103.8H48.81V106.9H43.85zM63.66 106.9H68.61V109.9H63.66zM83.47 109.9H93.37V113H83.47zM113.2 113H123.1V116.1H113.2zM137.9 116.1H142.9V119.1H137.9zM326.1 116.1H336V119.1H326.1zM187.5 119.1H306.3V122.2H187.5z"/><path fill="#f8a718" d="M68.61 103.8H73.56V106.9H68.61zM93.37 106.9H98.32V109.9H93.37zM321.1 106.9H331V109.9H321.1zM118.1 109.9H128V113H118.1zM296.4 109.9H316.2V113H296.4zM152.8 113H177.5V116.1H152.8zM246.9 113H271.6V116.1H246.9z"/><path fill="#d5df33" d="M29 106.9H33.95V109.9H29zM48.81 109.9H53.76V113H48.81zM68.61 113H73.56V116.1H68.61zM93.37 116.1H98.32V119.1H93.37zM118.1 119.1H123.1V122.2H118.1zM137.9 122.2H142.9V125.2H137.9zM167.6 125.2H172.6V128.3H167.6z"/><path fill="#e5e22e" d="M33.95 106.9H38.9V109.9H33.95zM103.3 116.1H108.2V119.1H103.3zM152.8 122.2H162.7V125.2H152.8zM177.5 125.2H336V128.3H177.5z"/><path fill="#ece42c" d="M38.9 106.9H43.85V109.9H38.9zM58.71 109.9H63.66V113H58.71zM78.52 113H83.47V116.1H78.52zM108.2 116.1H113.2V119.1H108.2zM128 119.1H133V122.2H128zM162.7 122.2H167.6V125.2H162.7z"/><path fill="#f0e42a" d="M43.85 106.9H48.81V109.9H43.85zM63.66 109.9H68.61V113H63.66zM83.47 113H88.42V116.1H83.47zM113.2 116.1H118.1V119.1H113.2zM133 119.1H137.9V122.2H133zM167.6 122.2H177.5V125.2H167.6zM326.1 122.2H336V125.2H326.1z"/><path fill="#a8d850" d="M29 109.9H33.95V113H29zM48.81 113H53.76V116.1H48.81zM88.42 119.1H93.37V122.2H88.42zM167.6 128.3H172.6V131.3H167.6zM276.6 131.3H311.2V134.4H276.6z"/><path fill="#b0da48" d="M33.95 109.9H38.9V113H33.95zM53.76 113H58.71V116.1H53.76zM73.56 116.1H78.52V119.1H73.56zM93.37 119.1H98.32V122.2H93.37zM118.1 122.2H123.1V125.2H118.1zM137.9 125.2H142.9V128.3H137.9zM172.6 128.3H177.5V131.3H172.6zM311.2 131.3H336V134.4H311.2z"/><path fill="#bedc3b" d="M38.9 109.9H43.85V113H38.9zM58.71 113H63.66V116.1H58.71zM78.52 116.1H83.47V119.1H78.52zM103.3 119.1H108.2V122.2H103.3zM128 122.2H133V125.2H128zM147.8 125.2H152.8V128.3H147.8zM177.5 128.3H182.5V131.3H177.5zM217.2 128.3H227.1V131.3H217.2z"/><path fill="#c4dc39" d="M43.85 109.9H48.81V113H43.85zM63.66 113H68.61V116.1H63.66zM83.47 116.1H88.42V119.1H83.47zM108.2 119.1H113.2V122.2H108.2zM133 122.2H137.9V125.2H133zM152.8 125.2H162.7V128.3H152.8zM227.1 128.3H251.8V131.3H227.1z"/><path fill="#dee030" d="M53.76 109.9H58.71V113H53.76zM73.56 113H78.52V116.1H73.56zM98.32 116.1H103.3V119.1H98.32zM123.1 119.1H128V122.2H123.1zM142.9 122.2H152.8V125.2H142.9zM172.6 125.2H177.5V128.3H172.6z"/><path fill="#f4e428" d="M68.61 109.9H73.56V113H68.61zM88.42 113H93.37V116.1H88.42zM118.1 116.1H123.1V119.1H118.1zM137.9 119.1H142.9V122.2H137.9zM177.5 122.2H197.4V125.2H177.5zM311.2 122.2H326.1V125.2H311.2z"/><path fill="#8cd88c" d="M29 113H33.95V116.1H29zM48.81 116.1H53.76V119.1H48.81zM83.47 122.2H88.42V125.2H83.47zM128 128.3H133V131.3H128zM167.6 131.3H172.6V134.4H167.6zM251.8 134.4H271.6V137.4H251.8zM326.1 137.4H331V140.5H326.1z"/><path fill="#92d87d" d="M33.95 113H38.9V116.1H33.95zM53.76 116.1H58.71V119.1H53.76zM113.2 125.2H118.1V128.3H113.2zM137.9 128.3H142.9V131.3H137.9zM177.5 131.3H197.4V134.4H177.5zM286.5 134.4H306.3V137.4H286.5z"/><path fill="#98d86e" d="M38.9 113H43.85V116.1H38.9zM58.71 116.1H63.66V119.1H58.71zM98.32 122.2H103.3V125.2H98.32zM147.8 128.3H152.8V131.3H147.8zM212.2 131.3H222.1V134.4H212.2zM321.1 134.4H331V137.4H321.1z"/><path fill="#9fd85f" d="M43.85 113H48.81V116.1H43.85zM63.66 116.1H68.61V119.1H63.66zM108.2 122.2H113.2V125.2H108.2zM128 125.2H133V128.3H128zM157.7 128.3H162.7V131.3H157.7zM232 131.3H251.8V134.4H232z"/><path fill="#84dccc" d="M29 116.1H33.95V119.1H29zM43.85 119.1H48.81V122.2H43.85zM93.37 128.3H98.32V131.3H93.37zM123.1 131.3H128V134.4H123.1zM157.7 134.4H162.7V137.4H157.7zM222.1 137.4H232V140.5H222.1zM296.4 140.5H311.2V143.5H296.4zM326.1 143.5H336V146.6H326.1z"/><path fill="#84dabe" d="M33.95 116.1H38.9V119.1H33.95zM83.47 125.2H88.42V128.3H83.47zM103.3 128.3H108.2V131.3H103.3zM133 131.3H142.9V134.4H133zM172.6 134.4H177.5V137.4H172.6zM246.9 137.4H261.7V140.5H246.9zM316.2 140.5H321.1V143.5H316.2z"/><path fill="#85d8af" d="M38.9 116.1H43.85V119.1H38.9zM147.8 131.3H152.8V134.4H147.8zM207.3 134.4H217.2V137.4H207.3zM271.6 137.4H286.5V140.5H271.6zM326.1 140.5H331V143.5H326.1z"/><path fill="#88d8a0" d="M43.85 116.1H48.81V119.1H43.85zM78.52 122.2H83.47V125.2H78.52zM98.32 125.2H103.3V128.3H98.32zM118.1 128.3H123.1V131.3H118.1zM157.7 131.3H162.7V134.4H157.7zM227.1 134.4H237V137.4H227.1zM306.3 137.4H316.2V140.5H306.3z"/><path fill="#a4d857" d="M68.61 116.1H73.56V119.1H68.61zM83.47 119.1H88.42V122.2H83.47zM113.2 122.2H118.1V125.2H113.2zM133 125.2H137.9V128.3H133zM162.7 128.3H167.6V131.3H162.7zM251.8 131.3H276.6V134.4H251.8z"/><path fill="#ccdd37" d="M88.42 116.1H93.37V119.1H88.42zM113.2 119.1H118.1V122.2H113.2zM162.7 125.2H167.6V128.3H162.7zM251.8 128.3H336V131.3H251.8z"/><path fill="#7ed2e5" d="M29 119.1H33.95V122.2H29zM58.71 125.2H63.66V128.3H58.71zM73.56 128.3H78.52V131.3H73.56zM88.42 131.3H93.37V134.4H88.42zM123.1 134.4H128V137.4H123.1zM157.7 137.4H167.6V140.5H157.7zM217.2 140.5H232V143.5H217.2zM276.6 143.5H291.4V146.6H276.6zM326.1 146.6H336V149.6H326.1z"/><path fill="#81d6e1" d="M33.95 119.1H38.9V122.2H33.95zM48.81 122.2H53.76V125.2H48.81zM78.52 128.3H83.47V131.3H78.52zM93.37 131.3H103.3V134.4H93.37zM128 134.4H137.9V137.4H128zM167.6 137.4H177.5V140.5H167.6zM232 140.5H246.9V143.5H232zM291.4 143.5H311.2V146.6H291.4z"/><path fill="#84dcd8" d="M38.9 119.1H43.85V122.2H38.9zM68.61 125.2H73.56V128.3H68.61zM83.47 128.3H88.42V131.3H83.47zM108.2 131.3H113.2V134.4H108.2zM142.9 134.4H147.8V137.4H142.9zM197.4 137.4H212.2V140.5H197.4zM261.7 140.5H276.6V143.5H261.7zM316.2 143.5H321.1V146.6H316.2z"/><path fill="#84dcc6" d="M48.81 119.1H53.76V122.2H48.81zM63.66 122.2H68.61V125.2H63.66zM78.52 125.2H83.47V128.3H78.52zM98.32 128.3H103.3V131.3H98.32zM128 131.3H133V134.4H128zM162.7 134.4H172.6V137.4H162.7zM232 137.4H246.9V140.5H232zM311.2 140.5H316.2V143.5H311.2z"/><path fill="#84d9b7" d="M53.76 119.1H58.71V122.2H53.76zM68.61 122.2H73.56V125.2H68.61zM88.42 125.2H93.37V128.3H88.42zM108.2 128.3H113.2V131.3H108.2zM142.9 131.3H147.8V134.4H142.9zM177.5 134.4H207.3V137.4H177.5zM261.7 137.4H271.6V140.5H261.7zM321.1 140.5H326.1V143.5H321.1z"/><path fill="#87d8a7" d="M58.71 119.1H63.66V122.2H58.71zM73.56 122.2H78.52V125.2H73.56zM93.37 125.2H98.32V128.3H93.37zM113.2 128.3H118.1V131.3H113.2zM152.8 131.3H157.7V134.4H152.8zM217.2 134.4H227.1V137.4H217.2zM286.5 137.4H306.3V140.5H286.5zM331 140.5H336V143.5H331z"/><path fill="#8ad896" d="M63.66 119.1H68.61V122.2H63.66zM103.3 125.2H108.2V128.3H103.3zM123.1 128.3H128V131.3H123.1zM162.7 131.3H167.6V134.4H162.7zM237 134.4H251.8V137.4H237zM316.2 137.4H326.1V140.5H316.2z"/><path fill="#8fd885" d="M68.61 119.1H73.56V122.2H68.61zM88.42 122.2H93.37V125.2H88.42zM108.2 125.2H113.2V128.3H108.2zM133 128.3H137.9V131.3H133zM172.6 131.3H177.5V134.4H172.6zM271.6 134.4H286.5V137.4H271.6zM331 137.4H336V140.5H331z"/><path fill="#95d875" d="M73.56 119.1H78.52V122.2H73.56zM93.37 122.2H98.32V125.2H93.37zM118.1 125.2H123.1V128.3H118.1zM142.9 128.3H147.8V131.3H142.9zM197.4 131.3H212.2V134.4H197.4zM306.3 134.4H321.1V137.4H306.3z"/><path fill="#9bd866" d="M78.52 119.1H83.47V122.2H78.52zM103.3 122.2H108.2V125.2H103.3zM123.1 125.2H128V128.3H123.1zM152.8 128.3H157.7V131.3H152.8zM222.1 131.3H232V134.4H222.1zM331 134.4H336V137.4H331z"/><path fill="#b8db40" d="M98.32 119.1H103.3V122.2H98.32zM123.1 122.2H128V125.2H123.1zM142.9 125.2H147.8V128.3H142.9zM182.5 128.3H217.2V131.3H182.5z"/><path fill="#52a9e3" d="M29 122.2H33.95V125.2H29zM38.9 125.2H43.85V128.3H38.9zM53.76 128.3H58.71V131.3H53.76zM68.61 131.3H73.56V134.4H68.61zM83.47 134.4H88.42V137.4H83.47zM113.2 137.4H118.1V140.5H113.2zM142.9 140.5H152.8V143.5H142.9zM202.3 143.5H217.2V146.6H202.3zM246.9 146.6H256.8V149.6H246.9zM296.4 149.6H316.2V152.7H296.4z"/><path fill="#5fb7e7" d="M33.95 122.2H38.9V125.2H33.95zM73.56 131.3H78.52V134.4H73.56zM98.32 134.4H103.3V137.4H98.32zM128 137.4H133V140.5H128zM167.6 140.5H177.5V143.5H167.6zM227.1 143.5H237V146.6H227.1zM271.6 146.6H286.5V149.6H271.6zM326.1 149.6H336V152.7H326.1z"/><path fill="#70c6e8" d="M38.9 122.2H43.85V125.2H38.9zM68.61 128.3H73.56V131.3H68.61zM108.2 134.4H118.1V137.4H108.2zM137.9 137.4H147.8V140.5H137.9zM187.5 140.5H202.3V143.5H187.5zM251.8 143.5H261.7V146.6H251.8zM306.3 146.6H316.2V149.6H306.3z"/><path fill="#79cde8" d="M43.85 122.2H48.81V125.2H43.85zM53.76 125.2H58.71V128.3H53.76zM83.47 131.3H88.42V134.4H83.47zM118.1 134.4H123.1V137.4H118.1zM147.8 137.4H157.7V140.5H147.8zM202.3 140.5H217.2V143.5H202.3zM261.7 143.5H276.6V146.6H261.7zM316.2 146.6H326.1V149.6H316.2z"/><path fill="#82d9dd" d="M53.76 122.2H58.71V125.2H53.76zM63.66 125.2H68.61V128.3H63.66zM103.3 131.3H108.2V134.4H103.3zM137.9 134.4H142.9V137.4H137.9zM177.5 137.4H197.4V140.5H177.5zM246.9 140.5H261.7V143.5H246.9zM311.2 143.5H316.2V146.6H311.2z"/><path fill="#84dcd2" d="M58.71 122.2H63.66V125.2H58.71zM73.56 125.2H78.52V128.3H73.56zM88.42 128.3H93.37V131.3H88.42zM113.2 131.3H123.1V134.4H113.2zM147.8 134.4H157.7V137.4H147.8zM212.2 137.4H222.1V140.5H212.2zM276.6 140.5H296.4V143.5H276.6zM321.1 143.5H326.1V146.6H321.1z"/><path fill="#4487dc" d="M29 125.2H33.95V128.3H29zM43.85 128.3H48.81V131.3H43.85zM83.47 137.4H93.37V140.5H83.47zM113.2 140.5H123.1V143.5H113.2zM147.8 143.5H162.7V146.6H147.8zM207.3 146.6H217.2V149.6H207.3zM237 149.6H246.9V152.7H237z"/><path fill="#4b9ae0" d="M33.95 125.2H38.9V128.3H33.95zM48.81 128.3H53.76V131.3H48.81zM78.52 134.4H83.47V137.4H78.52zM98.32 137.4H103.3V140.5H98.32zM128 140.5H137.9V143.5H128zM172.6 143.5H187.5V146.6H172.6zM227.1 146.6H237V149.6H227.1zM261.7 149.6H271.6V152.7H261.7z"/><path fill="#58b0e5" d="M43.85 125.2H48.81V128.3H43.85zM58.71 128.3H63.66V131.3H58.71zM88.42 134.4H98.32V137.4H88.42zM118.1 137.4H128V140.5H118.1zM152.8 140.5H167.6V143.5H152.8zM217.2 143.5H227.1V146.6H217.2zM256.8 146.6H271.6V149.6H256.8zM316.2 149.6H326.1V152.7H316.2z"/><path fill="#67bee8" d="M48.81 125.2H53.76V128.3H48.81zM63.66 128.3H68.61V131.3H63.66zM78.52 131.3H83.47V134.4H78.52zM103.3 134.4H108.2V137.4H103.3zM133 137.4H137.9V140.5H133zM177.5 140.5H187.5V143.5H177.5zM237 143.5H251.8V146.6H237zM286.5 146.6H306.3V149.6H286.5z"/><path fill="#4066cb" d="M29 128.3H33.95V131.3H29zM43.85 131.3H48.81V134.4H43.85zM58.71 134.4H63.66V137.4H58.71zM88.42 140.5H93.37V143.5H88.42zM118.1 143.5H123.1V146.6H118.1zM147.8 146.6H162.7V149.6H147.8zM197.4 149.6H207.3V152.7H197.4z"/><path fill="#406ed0" d="M33.95 128.3H38.9V131.3H33.95zM73.56 137.4H78.52V140.5H73.56zM93.37 140.5H103.3V143.5H93.37zM123.1 143.5H133V146.6H123.1zM162.7 146.6H177.5V149.6H162.7zM207.3 149.6H217.2V152.7H207.3z"/><path fill="#427ed8" d="M38.9 128.3H43.85V131.3H38.9zM53.76 131.3H58.71V134.4H53.76zM68.61 134.4H73.56V137.4H68.61zM108.2 140.5H113.2V143.5H108.2zM137.9 143.5H147.8V146.6H137.9zM192.4 146.6H207.3V149.6H192.4zM227.1 149.6H237V152.7H227.1z"/><path fill="#4044b8" d="M29 131.3H33.95V134.4H29zM88.42 143.5H93.37V146.6H88.42zM128 146.6H133V149.6H128zM142.9 149.6H152.8V152.7H142.9z"/><path fill="#404cbe" d="M33.95 131.3H38.9V134.4H33.95zM48.81 134.4H53.76V137.4H48.81zM58.71 137.4H63.66V140.5H58.71zM78.52 140.5H83.47V143.5H78.52zM93.37 143.5H103.3V146.6H93.37zM133 146.6H137.9V149.6H133zM152.8 149.6H167.6V152.7H152.8z"/><path fill="#405cc7" d="M38.9 131.3H43.85V134.4H38.9zM53.76 134.4H58.71V137.4H53.76zM68.61 137.4H73.56V140.5H68.61zM83.47 140.5H88.42V143.5H83.47zM108.2 143.5H118.1V146.6H108.2zM142.9 146.6H147.8V149.6H142.9zM182.5 149.6H197.4V152.7H182.5z"/><path fill="#4076d5" d="M48.81 131.3H53.76V134.4H48.81zM63.66 134.4H68.61V137.4H63.66zM78.52 137.4H83.47V140.5H78.52zM103.3 140.5H108.2V143.5H103.3zM133 143.5H137.9V146.6H133zM177.5 146.6H192.4V149.6H177.5zM217.2 149.6H227.1V152.7H217.2z"/><path fill="#4790de" d="M58.71 131.3H63.66V134.4H58.71zM73.56 134.4H78.52V137.4H73.56zM93.37 137.4H98.32V140.5H93.37zM123.1 140.5H128V143.5H123.1zM162.7 143.5H172.6V146.6H162.7zM217.2 146.6H227.1V149.6H217.2zM246.9 149.6H261.7V152.7H246.9z"/><path fill="#4fa1e1" d="M63.66 131.3H68.61V134.4H63.66zM103.3 137.4H113.2V140.5H103.3zM137.9 140.5H142.9V143.5H137.9zM187.5 143.5H202.3V146.6H187.5zM237 146.6H246.9V149.6H237zM271.6 149.6H296.4V152.7H271.6z"/><path fill="#3c2ca3" d="M29 134.4H33.95V137.4H29zM63.66 143.5H68.61V146.6H63.66zM88.42 146.6H93.37V149.6H88.42zM103.3 149.6H108.2V152.7H103.3z"/><path fill="#3c2fa7" d="M33.95 134.4H38.9V137.4H33.95zM43.85 137.4H48.81V140.5H43.85zM98.32 146.6H103.3V149.6H98.32zM113.2 149.6H118.1V152.7H113.2z"/><path fill="#3f36ae" d="M38.9 134.4H43.85V137.4H38.9zM48.81 137.4H53.76V140.5H48.81zM68.61 140.5H73.56V143.5H68.61zM108.2 146.6H113.2V149.6H108.2zM128 149.6H133V152.7H128z"/><path fill="#403fb5" d="M43.85 134.4H48.81V137.4H43.85zM53.76 137.4H58.71V140.5H53.76zM73.56 140.5H78.52V143.5H73.56zM83.47 143.5H88.42V146.6H83.47zM118.1 146.6H128V149.6H118.1zM137.9 149.6H142.9V152.7H137.9z"/><path fill="#3c2ca0" d="M29 137.4H33.95V140.5H29zM29 140.5H53.76V143.5H29zM29 143.5H63.66V146.6H29zM29 146.6H83.47V149.6H29zM29 149.6H98.32V152.7H29z"/><path fill="#3c2ca2" d="M33.95 137.4H38.9V140.5H33.95zM53.76 140.5H58.71V143.5H53.76zM83.47 146.6H88.42V149.6H83.47zM98.32 149.6H103.3V152.7H98.32z"/><path fill="#3c2da5" d="M38.9 137.4H43.85V140.5H38.9zM58.71 140.5H63.66V143.5H58.71zM68.61 143.5H73.56V146.6H68.61zM93.37 146.6H98.32V149.6H93.37zM108.2 149.6H113.2V152.7H108.2z"/><path fill="#4053c3" d="M63.66 137.4H68.61V140.5H63.66zM103.3 143.5H108.2V146.6H103.3zM137.9 146.6H142.9V149.6H137.9zM167.6 149.6H182.5V152.7H167.6z"/><path fill="#3d32aa" d="M63.66 140.5H68.61V143.5H63.66zM73.56 143.5H78.52V146.6H73.56zM103.3 146.6H108.2V149.6H103.3zM118.1 149.6H128V152.7H118.1z"/><path fill="#403ab1" d="M78.52 143.5H83.47V146.6H78.52zM113.2 146.6H118.1V149.6H113.2zM133 149.6H137.9V152.7H133z"/><path fill="#3c2ca0" d="M28 188.6H67V191.5H28zM28 191.5H52V194.5H28zM28 194.5H40V197.4H28zM322 329.5H334V332.4H322zM301 332.4H334V335.3H301zM277 335.3H334V338.3H277zM256 338.3H334V341.2H256z"/><path fill="#3c2ca2" d="M67 188.6H76V191.5H67zM52 191.5H61V194.5H52zM40 194.5H49V197.4H40zM28 197.4H34V200.3H28zM331 326.5H334V329.5H331zM310 329.5H322V332.4H310zM286 332.4H301V335.3H286zM265 335.3H277V338.3H265zM244 338.3H256V341.2H244z"/><path fill="#3d32aa" d="M76 188.6H79V191.5H76zM322 326.5H328V329.5H322zM301 329.5H304V332.4H301zM277 332.4H283V335.3H277zM256 335.3H259V338.3H256zM235 338.3H238V341.2H235z"/><path fill="#3f36ae" d="M79 188.6H82V191.5H79zM64 191.5H67V194.5H64zM49 194.5H52V197.4H49zM316 326.5H322V329.5H316zM295 329.5H301V332.4H295zM271 332.4H277V335.3H271zM250 335.3H256V338.3H250zM229 338.3H235V341.2H229z"/><path fill="#403fb5" d="M82 188.6H85V191.5H82zM67 191.5H70V194.5H67zM325 323.6H334V326.5H325zM304 326.5H310V329.5H304zM280 329.5H289V332.4H280zM259 332.4H265V335.3H259zM238 335.3H244V338.3H238zM217 338.3H223V341.2H217z"/><path fill="#4044b8" d="M85 188.6H91V191.5H85zM70 191.5H73V194.5H70zM55 194.5H58V197.4H55zM40 197.4H43V200.3H40zM319 323.6H325V326.5H319zM295 326.5H304V329.5H295zM274 329.5H280V332.4H274zM253 332.4H259V335.3H253zM229 335.3H238V338.3H229zM208 338.3H217V341.2H208z"/><path fill="#404cbe" d="M91 188.6H94V191.5H91zM73 191.5H79V194.5H73zM58 194.5H61V197.4H58zM43 197.4H46V200.3H43zM28 200.3H31V203.3H28zM310 323.6H319V326.5H310zM289 326.5H295V329.5H289zM268 329.5H274V332.4H268zM247 332.4H253V335.3H247zM223 335.3H229V338.3H223zM202 338.3H208V341.2H202z"/><path fill="#4053c3" d="M94 188.6H97V191.5H94zM79 191.5H82V194.5H79zM61 194.5H64V197.4H61zM46 197.4H49V200.3H46zM31 200.3H34V203.3H31zM328 320.7H334V323.6H328zM304 323.6H310V326.5H304zM283 326.5H289V329.5H283zM262 329.5H268V332.4H262zM241 332.4H247V335.3H241zM220 335.3H223V338.3H220zM199 338.3H202V341.2H199z"/><path fill="#405cc7" d="M97 188.6H103V191.5H97zM82 191.5H85V194.5H82zM64 194.5H70V197.4H64zM49 197.4H52V200.3H49zM34 200.3H37V203.3H34zM322 320.7H328V323.6H322zM301 323.6H304V326.5H301zM277 326.5H283V329.5H277zM256 329.5H262V332.4H256zM235 332.4H241V335.3H235zM214 335.3H220V338.3H214zM193 338.3H199V341.2H193z"/><path fill="#4066cb" d="M103 188.6H106V191.5H103zM85 191.5H88V194.5H85zM70 194.5H73V197.4H70zM52 197.4H55V200.3H52zM37 200.3H40V203.3H37zM316 320.7H322V323.6H316zM295 323.6H301V326.5H295zM274 326.5H277V329.5H274zM250 329.5H256V332.4H250zM229 332.4H235V335.3H229zM208 335.3H214V338.3H208zM190 338.3H193V341.2H190z"/><path fill="#406ed0" d="M106 188.6H109V191.5H106zM88 191.5H91V194.5H88zM73 194.5H76V197.4H73zM55 197.4H58V200.3H55zM40 200.3H43V203.3H40zM310 320.7H316V323.6H310zM289 323.6H295V326.5H289zM268 326.5H274V329.5H268zM247 329.5H250V332.4H247zM226 332.4H229V335.3H226zM205 335.3H208V338.3H205zM184 338.3H190V341.2H184z"/><path fill="#4076d5" d="M109 188.6H112V191.5H109zM91 191.5H97V194.5H91zM76 194.5H79V197.4H76zM58 197.4H64V200.3H58zM43 200.3H46V203.3H43zM28 203.3H31V206.2H28zM328 317.7H334V320.7H328zM307 320.7H310V323.6H307zM283 323.6H289V326.5H283zM262 326.5H268V329.5H262zM241 329.5H247V332.4H241zM220 332.4H226V335.3H220zM199 335.3H205V338.3H199zM178 338.3H184V341.2H178z"/><path fill="#427ed8" d="M112 188.6H118V191.5H112zM97 191.5H100V194.5H97zM79 194.5H82V197.4H79zM64 197.4H67V200.3H64zM46 200.3H49V203.3H46zM31 203.3H34V206.2H31zM322 317.7H328V320.7H322zM301 320.7H307V323.6H301zM280 323.6H283V326.5H280zM259 326.5H262V329.5H259zM238 329.5H241V332.4H238zM217 332.4H220V335.3H217zM196 335.3H199V338.3H196zM175 338.3H178V341.2H175z"/><path fill="#4487dc" d="M118 188.6H121V191.5H118zM100 191.5H103V194.5H100zM82 194.5H85V197.4H82zM67 197.4H70V200.3H67zM49 200.3H52V203.3H49zM34 203.3H37V206.2H34zM316 317.7H322V320.7H316zM295 320.7H301V323.6H295zM274 323.6H280V326.5H274zM253 326.5H259V329.5H253zM232 329.5H238V332.4H232zM211 332.4H217V335.3H211zM190 335.3H196V338.3H190zM169 338.3H175V341.2H169z"/><path fill="#4790de" d="M121 188.6H124V191.5H121zM103 191.5H106V194.5H103zM85 194.5H88V197.4H85zM70 197.4H73V200.3H70zM52 200.3H55V203.3H52zM37 203.3H40V206.2H37zM313 317.7H316V320.7H313zM289 320.7H295V323.6H289zM268 323.6H274V326.5H268zM247 326.5H253V329.5H247zM226 329.5H232V332.4H226zM208 332.4H211V335.3H208zM187 335.3H190V338.3H187zM166 338.3H169V341.2H166z"/><path fill="#4b9ae0" d="M124 188.6H127V191.5H124zM106 191.5H109V194.5H106zM88 194.5H94V197.4H88zM73 197.4H76V200.3H73zM55 200.3H58V203.3H55zM40 203.3H43V206.2H40zM328 314.8H334V317.7H328zM307 317.7H313V320.7H307zM286 320.7H289V323.6H286zM265 323.6H268V326.5H265zM244 326.5H247V329.5H244zM223 329.5H226V332.4H223zM202 332.4H208V335.3H202zM181 335.3H187V338.3H181zM160 338.3H166V341.2H160z"/><path fill="#4fa1e1" d="M127 188.6H130V191.5H127zM109 191.5H112V194.5H109zM94 194.5H97V197.4H94zM76 197.4H79V200.3H76zM58 200.3H61V203.3H58zM43 203.3H46V206.2H43zM28 206.2H31V209.1H28zM325 314.8H328V317.7H325zM301 317.7H307V320.7H301zM280 320.7H286V323.6H280zM259 323.6H265V326.5H259zM238 326.5H244V329.5H238zM217 329.5H223V332.4H217zM199 332.4H202V335.3H199zM178 335.3H181V338.3H178zM157 338.3H160V341.2H157z"/><path fill="#52a9e3" d="M130 188.6H133V191.5H130zM112 191.5H115V194.5H112zM97 194.5H100V197.4H97zM79 197.4H82V200.3H79zM61 200.3H64V203.3H61zM46 203.3H49V206.2H46zM31 206.2H34V209.1H31zM319 314.8H325V317.7H319zM298 317.7H301V320.7H298zM277 320.7H280V323.6H277zM256 323.6H259V326.5H256zM235 326.5H238V329.5H235zM214 329.5H217V332.4H214zM193 332.4H199V335.3H193zM175 335.3H178V338.3H175zM154 338.3H157V341.2H154z"/><path fill="#58b0e5" d="M133 188.6H136V191.5H133zM115 191.5H118V194.5H115zM100 194.5H103V197.4H100zM82 197.4H85V200.3H82zM64 200.3H67V203.3H64zM49 203.3H52V206.2H49zM316 314.8H319V317.7H316zM295 317.7H298V320.7H295zM274 320.7H277V323.6H274zM253 323.6H256V326.5H253zM232 326.5H235V329.5H232zM211 329.5H214V332.4H211zM190 332.4H193V335.3H190zM169 335.3H175V338.3H169zM151 338.3H154V341.2H151z"/><path fill="#5fb7e7" d="M136 188.6H139V191.5H136zM118 191.5H121V194.5H118zM85 197.4H88V200.3H85zM67 200.3H70V203.3H67zM52 203.3H55V206.2H52zM34 206.2H37V209.1H34zM310 314.8H316V317.7H310zM289 317.7H295V320.7H289zM268 320.7H274V323.6H268zM247 323.6H253V326.5H247zM226 326.5H232V329.5H226zM205 329.5H211V332.4H205zM187 332.4H190V335.3H187zM166 335.3H169V338.3H166zM145 338.3H151V341.2H145z"/><path fill="#67bee8" d="M139 188.6H142V191.5H139zM121 191.5H124V194.5H121zM103 194.5H106V197.4H103zM88 197.4H91V200.3H88zM70 200.3H73V203.3H70zM55 203.3H58V206.2H55zM37 206.2H40V209.1H37zM328 311.9H334V314.8H328zM307 314.8H310V317.7H307zM286 317.7H289V320.7H286zM265 320.7H268V323.6H265zM244 323.6H247V326.5H244zM223 326.5H226V329.5H223zM202 329.5H205V332.4H202zM181 332.4H187V335.3H181zM163 335.3H166V338.3H163zM142 338.3H145V341.2H142z"/><path fill="#70c6e8" d="M142 188.6H145V191.5H142zM124 191.5H127V194.5H124zM106 194.5H109V197.4H106zM91 197.4H94V200.3H91zM73 200.3H76V203.3H73zM58 203.3H61V206.2H58zM40 206.2H43V209.1H40zM325 311.9H328V314.8H325zM304 314.8H307V317.7H304zM280 317.7H286V320.7H280zM259 320.7H265V323.6H259zM238 323.6H244V326.5H238zM220 326.5H223V329.5H220zM199 329.5H202V332.4H199zM178 332.4H181V335.3H178zM157 335.3H163V338.3H157zM139 338.3H142V341.2H139z"/><path fill="#79cde8" d="M145 188.6H148V191.5H145zM127 191.5H130V194.5H127zM109 194.5H115V197.4H109zM94 197.4H97V200.3H94zM76 200.3H79V203.3H76zM61 203.3H64V206.2H61zM43 206.2H46V209.1H43zM28 209.1H31V212.1H28zM319 311.9H325V314.8H319zM298 314.8H304V317.7H298zM277 317.7H280V320.7H277zM256 320.7H259V323.6H256zM235 323.6H238V326.5H235zM214 326.5H220V329.5H214zM193 329.5H199V332.4H193zM175 332.4H178V335.3H175zM154 335.3H157V338.3H154zM136 338.3H139V341.2H136z"/><path fill="#7ed2e5" d="M148 188.6H151V191.5H148zM130 191.5H136V194.5H130zM115 194.5H118V197.4H115zM97 197.4H100V200.3H97zM79 200.3H82V203.3H79zM64 203.3H67V206.2H64zM46 206.2H52V209.1H46zM31 209.1H34V212.1H31zM313 311.9H319V314.8H313zM292 314.8H298V317.7H292zM271 317.7H277V320.7H271zM250 320.7H256V323.6H250zM229 323.6H235V326.5H229zM208 326.5H214V329.5H208zM190 329.5H193V332.4H190zM169 332.4H175V335.3H169zM151 335.3H154V338.3H151zM130 338.3H136V341.2H130z"/><path fill="#81d6e1" d="M151 188.6H157V191.5H151zM136 191.5H139V194.5H136zM118 194.5H121V197.4H118zM100 197.4H103V200.3H100zM82 200.3H88V203.3H82zM67 203.3H70V206.2H67zM52 206.2H55V209.1H52zM34 209.1H40V212.1H34zM331 308.9H334V311.9H331zM307 311.9H313V314.8H307zM286 314.8H292V317.7H286zM265 317.7H271V320.7H265zM244 320.7H250V323.6H244zM223 323.6H229V326.5H223zM205 326.5H208V329.5H205zM184 329.5H190V332.4H184zM166 332.4H169V335.3H166zM145 335.3H151V338.3H145zM127 338.3H130V341.2H127z"/><path fill="#82d9dd" d="M157 188.6H160V191.5H157zM139 191.5H142V194.5H139zM121 194.5H124V197.4H121zM103 197.4H109V200.3H103zM88 200.3H91V203.3H88zM70 203.3H76V206.2H70zM55 206.2H61V209.1H55zM40 209.1H43V212.1H40zM322 308.9H331V311.9H322zM301 311.9H307V314.8H301zM280 314.8H286V317.7H280zM259 317.7H265V320.7H259zM238 320.7H244V323.6H238zM217 323.6H223V326.5H217zM199 326.5H205V329.5H199zM178 329.5H184V332.4H178zM160 332.4H166V335.3H160zM142 335.3H145V338.3H142zM121 338.3H127V341.2H121z"/><path fill="#84dcd8" d="M160 188.6H163V191.5H160zM142 191.5H145V194.5H142zM124 194.5H130V197.4H124zM109 197.4H112V200.3H109zM91 200.3H97V203.3H91zM76 203.3H79V206.2H76zM61 206.2H64V209.1H61zM43 209.1H49V212.1H43zM28 212.1H34V215H28zM316 308.9H322V311.9H316zM295 311.9H301V314.8H295zM274 314.8H280V317.7H274zM253 317.7H259V320.7H253zM232 320.7H238V323.6H232zM214 323.6H217V326.5H214zM193 326.5H199V329.5H193zM175 329.5H178V332.4H175zM154 332.4H160V335.3H154zM136 335.3H142V338.3H136zM118 338.3H121V341.2H118z"/><path fill="#84dcd2" d="M163 188.6H166V191.5H163zM145 191.5H148V194.5H145zM130 194.5H133V197.4H130zM112 197.4H115V200.3H112zM97 200.3H100V203.3H97zM79 203.3H82V206.2H79zM64 206.2H67V209.1H64zM49 209.1H52V212.1H49zM34 212.1H37V215H34zM313 308.9H316V311.9H313zM292 311.9H295V314.8H292zM271 314.8H274V317.7H271zM250 317.7H253V320.7H250zM229 320.7H232V323.6H229zM211 323.6H214V326.5H211zM190 326.5H193V329.5H190zM169 329.5H175V332.4H169zM151 332.4H154V335.3H151zM133 335.3H136V338.3H133zM115 338.3H118V341.2H115z"/><path fill="#84dccc" d="M166 188.6H172V191.5H166zM148 191.5H154V194.5H148zM133 194.5H136V197.4H133zM115 197.4H118V200.3H115zM100 200.3H103V203.3H100zM82 203.3H85V206.2H82zM67 206.2H70V209.1H67zM52 209.1H55V212.1H52zM37 212.1H40V215H37zM331 306H334V308.9H331zM310 308.9H313V311.9H310zM289 311.9H292V314.8H289zM268 314.8H271V317.7H268zM247 317.7H250V320.7H247zM226 320.7H229V323.6H226zM205 323.6H211V326.5H205zM187 326.5H190V329.5H187zM166 329.5H169V332.4H166zM148 332.4H151V335.3H148zM130 335.3H133V338.3H130zM109 338.3H115V341.2H109z"/><path fill="#84dcc6" d="M172 188.6H175V191.5H172zM154 191.5H157V194.5H154zM136 194.5H139V197.4H136zM118 197.4H121V200.3H118zM103 200.3H106V203.3H103zM85 203.3H88V206.2H85zM70 206.2H73V209.1H70zM55 209.1H58V212.1H55zM328 306H331V308.9H328zM307 308.9H310V311.9H307zM283 311.9H289V314.8H283zM262 314.8H268V317.7H262zM241 317.7H247V320.7H241zM223 320.7H226V323.6H223zM202 323.6H205V326.5H202zM181 326.5H187V329.5H181zM163 329.5H166V332.4H163zM145 332.4H148V335.3H145zM124 335.3H130V338.3H124zM106 338.3H109V341.2H106z"/><path fill="#84dabe" d="M175 188.6H178V191.5H175zM157 191.5H160V194.5H157zM139 194.5H142V197.4H139zM121 197.4H124V200.3H121zM106 200.3H109V203.3H106zM88 203.3H91V206.2H88zM73 206.2H76V209.1H73zM40 212.1H43V215H40zM325 306H328V308.9H325zM301 308.9H307V311.9H301zM280 311.9H283V314.8H280zM259 314.8H262V317.7H259zM238 317.7H241V320.7H238zM220 320.7H223V323.6H220zM199 323.6H202V326.5H199zM178 326.5H181V329.5H178zM160 329.5H163V332.4H160zM139 332.4H145V335.3H139zM121 335.3H124V338.3H121zM103 338.3H106V341.2H103z"/><path fill="#84d9b7" d="M178 188.6H181V191.5H178zM160 191.5H163V194.5H160zM142 194.5H145V197.4H142zM124 197.4H127V200.3H124zM91 203.3H94V206.2H91zM58 209.1H61V212.1H58zM43 212.1H46V215H43zM28 215H31V217.9H28zM319 306H325V308.9H319zM298 308.9H301V311.9H298zM277 311.9H280V314.8H277zM256 314.8H259V317.7H256zM235 317.7H238V320.7H235zM214 320.7H220V323.6H214zM196 323.6H199V326.5H196zM175 326.5H178V329.5H175zM157 329.5H160V332.4H157zM136 332.4H139V335.3H136zM118 335.3H121V338.3H118zM100 338.3H103V341.2H100z"/><path fill="#85d8af" d="M181 188.6H184V191.5H181zM163 191.5H166V194.5H163zM145 194.5H148V197.4H145zM127 197.4H130V200.3H127zM109 200.3H112V203.3H109zM94 203.3H97V206.2H94zM76 206.2H79V209.1H76zM61 209.1H64V212.1H61zM46 212.1H49V215H46zM31 215H34V217.9H31zM316 306H319V308.9H316zM295 308.9H298V311.9H295zM274 311.9H277V314.8H274zM253 314.8H256V317.7H253zM232 317.7H235V320.7H232zM211 320.7H214V323.6H211zM193 323.6H196V326.5H193zM172 326.5H175V329.5H172zM154 329.5H157V332.4H154zM133 332.4H136V335.3H133zM115 335.3H118V338.3H115zM97 338.3H100V341.2H97z"/><path fill="#87d8a7" d="M184 188.6H187V191.5H184zM166 191.5H169V194.5H166zM148 194.5H151V197.4H148zM130 197.4H133V200.3H130zM112 200.3H115V203.3H112zM97 203.3H100V206.2H97zM79 206.2H82V209.1H79zM64 209.1H67V212.1H64zM313 306H316V308.9H313zM292 308.9H295V311.9H292zM271 311.9H274V314.8H271zM250 314.8H253V317.7H250zM229 317.7H232V320.7H229zM190 323.6H193V326.5H190zM169 326.5H172V329.5H169zM151 329.5H154V332.4H151zM112 335.3H115V338.3H112zM94 338.3H97V341.2H94z"/><path fill="#88d8a0" d="M187 188.6H190V191.5H187zM169 191.5H172V194.5H169zM151 194.5H154V197.4H151zM133 197.4H136V200.3H133zM115 200.3H118V203.3H115zM82 206.2H85V209.1H82zM67 209.1H70V212.1H67zM49 212.1H52V215H49zM34 215H37V217.9H34zM310 306H313V308.9H310zM289 308.9H292V311.9H289zM268 311.9H271V314.8H268zM247 314.8H250V317.7H247zM226 317.7H229V320.7H226zM208 320.7H211V323.6H208zM187 323.6H190V326.5H187zM166 326.5H169V329.5H166zM148 329.5H151V332.4H148zM130 332.4H133V335.3H130zM109 335.3H112V338.3H109zM91 338.3H94V341.2H91z"/><path fill="#8ad896" d="M190 188.6H196V191.5H190zM172 191.5H175V194.5H172zM154 194.5H157V197.4H154zM136 197.4H139V200.3H136zM118 200.3H121V203.3H118zM100 203.3H103V206.2H100zM85 206.2H88V209.1H85zM52 212.1H55V215H52zM37 215H40V217.9H37zM328 303H334V306H328zM307 306H310V308.9H307zM286 308.9H289V311.9H286zM265 311.9H268V314.8H265zM244 314.8H247V317.7H244zM205 320.7H208V323.6H205zM184 323.6H187V326.5H184zM145 329.5H148V332.4H145zM127 332.4H130V335.3H127zM106 335.3H109V338.3H106zM88 338.3H91V341.2H88z"/><path fill="#8cd88c" d="M196 188.6H199V191.5H196zM175 191.5H178V194.5H175zM157 194.5H160V197.4H157zM139 197.4H142V200.3H139zM121 200.3H124V203.3H121zM103 203.3H106V206.2H103zM88 206.2H91V209.1H88zM70 209.1H73V212.1H70zM55 212.1H58V215H55zM325 303H328V306H325zM304 306H307V308.9H304zM283 308.9H286V311.9H283zM262 311.9H265V314.8H262zM223 317.7H226V320.7H223zM202 320.7H205V323.6H202zM181 323.6H184V326.5H181zM163 326.5H166V329.5H163zM142 329.5H145V332.4H142zM124 332.4H127V335.3H124zM103 335.3H106V338.3H103zM85 338.3H88V341.2H85z"/><path fill="#8fd885" d="M199 188.6H202V191.5H199zM178 191.5H181V194.5H178zM160 194.5H163V197.4H160zM142 197.4H145V200.3H142zM124 200.3H127V203.3H124zM106 203.3H109V206.2H106zM73 209.1H76V212.1H73zM58 212.1H61V215H58zM40 215H43V217.9H40zM322 303H325V306H322zM301 306H304V308.9H301zM280 308.9H283V311.9H280zM241 314.8H244V317.7H241zM220 317.7H223V320.7H220zM199 320.7H202V323.6H199zM160 326.5H163V329.5H160zM139 329.5H142V332.4H139zM121 332.4H124V335.3H121zM100 335.3H103V338.3H100zM82 338.3H85V341.2H82z"/><path fill="#92d87d" d="M202 188.6H205V191.5H202zM181 191.5H187V194.5H181zM163 194.5H166V197.4H163zM145 197.4H148V200.3H145zM127 200.3H130V203.3H127zM109 203.3H112V206.2H109zM91 206.2H94V209.1H91zM76 209.1H79V212.1H76zM43 215H46V217.9H43zM28 217.9H31V220.9H28zM319 303H322V306H319zM259 311.9H262V314.8H259zM238 314.8H241V317.7H238zM217 317.7H220V320.7H217zM196 320.7H199V323.6H196zM178 323.6H181V326.5H178zM157 326.5H160V329.5H157zM136 329.5H139V332.4H136zM118 332.4H121V335.3H118zM97 335.3H100V338.3H97zM79 338.3H82V341.2H79z"/><path fill="#95d875" d="M205 188.6H211V191.5H205zM187 191.5H190V194.5H187zM166 194.5H169V197.4H166zM148 197.4H151V200.3H148zM130 200.3H133V203.3H130zM112 203.3H115V206.2H112zM94 206.2H97V209.1H94zM79 209.1H82V212.1H79zM61 212.1H64V215H61zM46 215H49V217.9H46zM316 303H319V306H316zM295 306H301V308.9H295zM277 308.9H280V311.9H277zM256 311.9H259V314.8H256zM235 314.8H238V317.7H235zM214 317.7H217V320.7H214zM193 320.7H196V323.6H193zM175 323.6H178V326.5H175zM154 326.5H157V329.5H154zM133 329.5H136V332.4H133zM115 332.4H118V335.3H115zM94 335.3H97V338.3H94zM73 338.3H79V341.2H73z"/><path fill="#98d86e" d="M211 188.6H214V191.5H211zM190 191.5H193V194.5H190zM169 194.5H172V197.4H169zM151 197.4H154V200.3H151zM133 200.3H136V203.3H133zM115 203.3H118V206.2H115zM97 206.2H100V209.1H97zM64 212.1H67V215H64zM31 217.9H34V220.9H31zM313 303H316V306H313zM274 308.9H277V311.9H274zM253 311.9H256V314.8H253zM232 314.8H235V317.7H232zM211 317.7H214V320.7H211zM172 323.6H175V326.5H172zM151 326.5H154V329.5H151zM130 329.5H133V332.4H130zM112 332.4H115V335.3H112zM91 335.3H94V338.3H91zM70 338.3H73V341.2H70z"/><path fill="#9bd866" d="M214 188.6H217V191.5H214zM193 191.5H196V194.5H193zM172 194.5H175V197.4H172zM154 197.4H157V200.3H154zM136 200.3H139V203.3H136zM118 203.3H121V206.2H118zM100 206.2H103V209.1H100zM82 209.1H85V212.1H82zM67 212.1H70V215H67zM49 215H52V217.9H49zM34 217.9H37V220.9H34zM331 300.1H334V303H331zM310 303H313V306H310zM292 306H295V308.9H292zM271 308.9H274V311.9H271zM250 311.9H253V314.8H250zM229 314.8H232V317.7H229zM190 320.7H193V323.6H190zM169 323.6H172V326.5H169zM148 326.5H151V329.5H148zM109 332.4H112V335.3H109zM88 335.3H91V338.3H88zM67 338.3H70V341.2H67z"/><path fill="#9fd85f" d="M217 188.6H220V191.5H217zM196 191.5H199V194.5H196zM175 194.5H178V197.4H175zM157 197.4H160V200.3H157zM139 200.3H142V203.3H139zM103 206.2H106V209.1H103zM85 209.1H88V212.1H85zM52 215H55V217.9H52zM328 300.1H331V303H328zM307 303H310V306H307zM289 306H292V308.9H289zM268 308.9H271V311.9H268zM247 311.9H250V314.8H247zM208 317.7H211V320.7H208zM187 320.7H190V323.6H187zM166 323.6H169V326.5H166zM145 326.5H148V329.5H145zM127 329.5H130V332.4H127zM106 332.4H109V335.3H106zM85 335.3H88V338.3H85zM64 338.3H67V341.2H64z"/><path fill="#a4d857" d="M220 188.6H223V191.5H220zM199 191.5H202V194.5H199zM178 194.5H181V197.4H178zM160 197.4H163V200.3H160zM121 203.3H124V206.2H121zM88 209.1H91V212.1H88zM70 212.1H73V215H70zM37 217.9H40V220.9H37zM325 300.1H328V303H325zM304 303H307V306H304zM286 306H289V308.9H286zM265 308.9H268V311.9H265zM226 314.8H229V317.7H226zM205 317.7H208V320.7H205zM184 320.7H187V323.6H184zM124 329.5H127V332.4H124zM103 332.4H106V335.3H103zM82 335.3H85V338.3H82zM61 338.3H64V341.2H61z"/><path fill="#a8d850" d="M223 188.6H229V191.5H223zM202 191.5H205V194.5H202zM181 194.5H187V197.4H181zM163 197.4H166V200.3H163zM142 200.3H145V203.3H142zM124 203.3H127V206.2H124zM106 206.2H109V209.1H106zM73 212.1H76V215H73zM55 215H58V217.9H55zM40 217.9H43V220.9H40zM322 300.1H325V303H322zM301 303H304V306H301zM283 306H286V308.9H283zM262 308.9H265V311.9H262zM244 311.9H247V314.8H244zM223 314.8H226V317.7H223zM202 317.7H205V320.7H202zM163 323.6H166V326.5H163zM142 326.5H145V329.5H142zM121 329.5H124V332.4H121zM100 332.4H103V335.3H100zM76 335.3H82V338.3H76zM55 338.3H61V341.2H55z"/><path fill="#b0da48" d="M229 188.6H232V191.5H229zM205 191.5H211V194.5H205zM187 194.5H190V197.4H187zM166 197.4H169V200.3H166zM145 200.3H148V203.3H145zM127 203.3H130V206.2H127zM109 206.2H112V209.1H109zM91 209.1H94V212.1H91zM58 215H61V217.9H58zM316 300.1H322V303H316zM298 303H301V306H298zM280 306H283V308.9H280zM259 308.9H262V311.9H259zM241 311.9H244V314.8H241zM220 314.8H223V317.7H220zM199 317.7H202V320.7H199zM181 320.7H184V323.6H181zM160 323.6H163V326.5H160zM139 326.5H142V329.5H139zM118 329.5H121V332.4H118zM94 332.4H100V335.3H94zM73 335.3H76V338.3H73zM52 338.3H55V341.2H52z"/><path fill="#b8db40" d="M232 188.6H235V191.5H232zM211 191.5H214V194.5H211zM190 194.5H193V197.4H190zM169 197.4H172V200.3H169zM148 200.3H151V203.3H148zM130 203.3H133V206.2H130zM112 206.2H115V209.1H112zM94 209.1H97V212.1H94zM76 212.1H79V215H76zM61 215H64V217.9H61zM43 217.9H46V220.9H43zM28 220.9H31V223.8H28zM313 300.1H316V303H313zM295 303H298V306H295zM277 306H280V308.9H277zM238 311.9H241V314.8H238zM217 314.8H220V317.7H217zM178 320.7H181V323.6H178zM157 323.6H160V326.5H157zM136 326.5H139V329.5H136zM115 329.5H118V332.4H115zM91 332.4H94V335.3H91zM70 335.3H73V338.3H70zM46 338.3H52V341.2H46z"/><path fill="#bedc3b" d="M235 188.6H241V191.5H235zM214 191.5H217V194.5H214zM193 194.5H196V197.4H193zM172 197.4H175V200.3H172zM151 200.3H154V203.3H151zM133 203.3H136V206.2H133zM97 209.1H100V212.1H97zM79 212.1H82V215H79zM46 217.9H49V220.9H46zM331 297.2H334V300.1H331zM292 303H295V306H292zM274 306H277V308.9H274zM256 308.9H259V311.9H256zM235 311.9H238V314.8H235zM196 317.7H199V320.7H196zM175 320.7H178V323.6H175zM154 323.6H157V326.5H154zM133 326.5H136V329.5H133zM112 329.5H115V332.4H112zM88 332.4H91V335.3H88zM67 335.3H70V338.3H67zM43 338.3H46V341.2H43z"/><path fill="#c4dc39" d="M241 188.6H244V191.5H241zM217 191.5H220V194.5H217zM196 194.5H199V197.4H196zM175 197.4H178V200.3H175zM154 200.3H157V203.3H154zM136 203.3H139V206.2H136zM115 206.2H121V209.1H115zM100 209.1H103V212.1H100zM82 212.1H85V215H82zM64 215H67V217.9H64zM49 217.9H52V220.9H49zM31 220.9H37V223.8H31zM325 297.2H331V300.1H325zM307 300.1H313V303H307zM289 303H292V306H289zM271 306H274V308.9H271zM253 308.9H256V311.9H253zM232 311.9H235V314.8H232zM214 314.8H217V317.7H214zM193 317.7H196V320.7H193zM172 320.7H175V323.6H172zM151 323.6H154V326.5H151zM130 326.5H133V329.5H130zM109 329.5H112V332.4H109zM85 332.4H88V335.3H85zM61 335.3H67V338.3H61zM37 338.3H43V341.2H37z"/><path fill="#ccdd37" d="M244 188.6H247V191.5H244zM220 191.5H223V194.5H220zM199 194.5H202V197.4H199zM178 197.4H181V200.3H178zM157 200.3H160V203.3H157zM139 203.3H142V206.2H139zM121 206.2H124V209.1H121zM103 209.1H106V212.1H103zM85 212.1H88V215H85zM67 215H73V217.9H67zM52 217.9H55V220.9H52zM37 220.9H40V223.8H37zM322 297.2H325V300.1H322zM304 300.1H307V303H304zM286 303H289V306H286zM268 306H271V308.9H268zM247 308.9H253V311.9H247zM229 311.9H232V314.8H229zM208 314.8H214V317.7H208zM190 317.7H193V320.7H190zM169 320.7H172V323.6H169zM148 323.6H151V326.5H148zM127 326.5H130V329.5H127zM103 329.5H109V332.4H103zM82 332.4H85V335.3H82zM58 335.3H61V338.3H58zM34 338.3H37V341.2H34z"/><path fill="#d5df33" d="M247 188.6H253V191.5H247zM223 191.5H229V194.5H223zM202 194.5H205V197.4H202zM181 197.4H184V200.3H181zM160 200.3H166V203.3H160zM142 203.3H145V206.2H142zM124 206.2H127V209.1H124zM106 209.1H109V212.1H106zM88 212.1H94V215H88zM73 215H76V217.9H73zM55 217.9H61V220.9H55zM40 220.9H46V223.8H40zM28 223.8H31V226.8H28zM316 297.2H322V300.1H316zM298 300.1H304V303H298zM280 303H286V306H280zM262 306H268V308.9H262zM244 308.9H247V311.9H244zM223 311.9H229V314.8H223zM205 314.8H208V317.7H205zM184 317.7H190V320.7H184zM163 320.7H169V323.6H163zM142 323.6H148V326.5H142zM121 326.5H127V329.5H121zM100 329.5H103V332.4H100zM76 332.4H82V335.3H76zM52 335.3H58V338.3H52zM28 338.3H34V341.2H28z"/><path fill="#dee030" d="M253 188.6H259V191.5H253zM229 191.5H235V194.5H229zM205 194.5H211V197.4H205zM184 197.4H190V200.3H184zM166 200.3H169V203.3H166zM145 203.3H148V206.2H145zM127 206.2H130V209.1H127zM109 209.1H115V212.1H109zM94 212.1H97V215H94zM76 215H82V217.9H76zM61 217.9H64V220.9H61zM46 220.9H49V223.8H46zM31 223.8H37V226.8H31zM328 294.2H334V297.2H328zM313 297.2H316V300.1H313zM295 300.1H298V303H295zM277 303H280V306H277zM259 306H262V308.9H259zM238 308.9H244V311.9H238zM220 311.9H223V314.8H220zM199 314.8H205V317.7H199zM181 317.7H184V320.7H181zM160 320.7H163V323.6H160zM139 323.6H142V326.5H139zM118 326.5H121V329.5H118zM94 329.5H100V332.4H94zM70 332.4H76V335.3H70zM46 335.3H52V338.3H46z"/><path fill="#e5e22e" d="M259 188.6H265V191.5H259zM235 191.5H238V194.5H235zM211 194.5H214V197.4H211zM190 197.4H193V200.3H190zM169 200.3H172V203.3H169zM148 203.3H154V206.2H148zM130 206.2H136V209.1H130zM115 209.1H118V212.1H115zM97 212.1H100V215H97zM82 215H85V217.9H82zM64 217.9H70V220.9H64zM49 220.9H55V223.8H49zM37 223.8H40V226.8H37zM325 294.2H328V297.2H325zM307 297.2H313V300.1H307zM289 300.1H295V303H289zM271 303H277V306H271zM253 306H259V308.9H253zM235 308.9H238V311.9H235zM217 311.9H220V314.8H217zM196 314.8H199V317.7H196zM175 317.7H181V320.7H175zM154 320.7H160V323.6H154zM133 323.6H139V326.5H133zM112 326.5H118V329.5H112zM91 329.5H94V332.4H91zM67 332.4H70V335.3H67zM43 335.3H46V338.3H43z"/><path fill="#ece42c" d="M265 188.6H268V191.5H265zM238 191.5H241V194.5H238zM214 194.5H217V197.4H214zM193 197.4H196V200.3H193zM172 200.3H175V203.3H172zM154 203.3H157V206.2H154zM136 206.2H139V209.1H136zM118 209.1H121V212.1H118zM100 212.1H103V215H100zM85 215H88V217.9H85zM70 217.9H73V220.9H70zM55 220.9H58V223.8H55zM40 223.8H43V226.8H40zM28 226.8H31V229.7H28zM322 294.2H325V297.2H322zM304 297.2H307V300.1H304zM286 300.1H289V303H286zM268 303H271V306H268zM250 306H253V308.9H250zM232 308.9H235V311.9H232zM211 311.9H217V314.8H211zM193 314.8H196V317.7H193zM172 317.7H175V320.7H172zM151 320.7H154V323.6H151zM130 323.6H133V326.5H130zM109 326.5H112V329.5H109zM85 329.5H91V332.4H85zM61 332.4H67V335.3H61zM37 335.3H43V338.3H37z"/><path fill="#f0e42a" d="M268 188.6H274V191.5H268zM241 191.5H247V194.5H241zM217 194.5H220V197.4H217zM196 197.4H199V200.3H196zM175 200.3H178V203.3H175zM157 203.3H160V206.2H157zM139 206.2H142V209.1H139zM121 209.1H124V212.1H121zM103 212.1H106V215H103zM88 215H91V217.9H88zM73 217.9H76V220.9H73zM58 220.9H61V223.8H58zM43 223.8H46V226.8H43zM31 226.8H34V229.7H31zM319 294.2H322V297.2H319zM301 297.2H304V300.1H301zM283 300.1H286V303H283zM265 303H268V306H265zM247 306H250V308.9H247zM229 308.9H232V311.9H229zM208 311.9H211V314.8H208zM190 314.8H193V317.7H190zM169 317.7H172V320.7H169zM148 320.7H151V323.6H148zM127 323.6H130V326.5H127zM103 326.5H109V329.5H103zM82 329.5H85V332.4H82zM58 332.4H61V335.3H58zM34 335.3H37V338.3H34z"/><path fill="#f4e428" d="M274 188.6H277V191.5H274zM247 191.5H250V194.5H247zM220 194.5H226V197.4H220zM199 197.4H202V200.3H199zM178 200.3H181V203.3H178zM160 203.3H163V206.2H160zM142 206.2H145V209.1H142zM124 209.1H127V212.1H124zM106 212.1H109V215H106zM91 215H94V217.9H91zM76 217.9H79V220.9H76zM61 220.9H64V223.8H61zM46 223.8H49V226.8H46zM34 226.8H37V229.7H34zM331 291.3H334V294.2H331zM316 294.2H319V297.2H316zM298 297.2H301V300.1H298zM280 300.1H283V303H280zM262 303H265V306H262zM244 306H247V308.9H244zM226 308.9H229V311.9H226zM205 311.9H208V314.8H205zM184 314.8H190V317.7H184zM166 317.7H169V320.7H166zM145 320.7H148V323.6H145zM124 323.6H127V326.5H124zM100 326.5H103V329.5H100zM79 329.5H82V332.4H79zM55 332.4H58V335.3H55zM28 335.3H34V338.3H28z"/><path fill="#f6e126" d="M277 188.6H280V191.5H277zM250 191.5H253V194.5H250zM226 194.5H229V197.4H226zM202 197.4H205V200.3H202zM181 200.3H184V203.3H181zM163 203.3H166V206.2H163zM145 206.2H148V209.1H145zM127 209.1H130V212.1H127zM109 212.1H112V215H109zM94 215H97V217.9H94zM79 217.9H82V220.9H79zM64 220.9H67V223.8H64zM49 223.8H52V226.8H49zM37 226.8H40V229.7H37zM328 291.3H331V294.2H328zM313 294.2H316V297.2H313zM295 297.2H298V300.1H295zM277 300.1H280V303H277zM259 303H262V306H259zM241 306H244V308.9H241zM220 308.9H226V311.9H220zM202 311.9H205V314.8H202zM181 314.8H184V317.7H181zM163 317.7H166V320.7H163zM142 320.7H145V323.6H142zM118 323.6H124V326.5H118zM97 326.5H100V329.5H97zM73 329.5H79V332.4H73zM49 332.4H55V335.3H49z"/><path fill="#f7dd25" d="M280 188.6H286V191.5H280zM253 191.5H256V194.5H253zM229 194.5H232V197.4H229zM205 197.4H208V200.3H205zM184 200.3H187V203.3H184zM166 203.3H169V206.2H166zM130 209.1H133V212.1H130zM112 212.1H115V215H112zM97 215H100V217.9H97zM82 217.9H85V220.9H82zM67 220.9H70V223.8H67zM52 223.8H55V226.8H52zM40 226.8H43V229.7H40zM310 294.2H313V297.2H310zM292 297.2H295V300.1H292zM274 300.1H277V303H274zM256 303H259V306H256zM238 306H241V308.9H238zM217 308.9H220V311.9H217zM199 311.9H202V314.8H199zM178 314.8H181V317.7H178zM157 317.7H163V320.7H157zM136 320.7H142V323.6H136zM115 323.6H118V326.5H115zM94 326.5H97V329.5H94zM70 329.5H73V332.4H70zM46 332.4H49V335.3H46z"/><path fill="#f8d723" d="M286 188.6H289V191.5H286zM256 191.5H262V194.5H256zM232 194.5H235V197.4H232zM208 197.4H211V200.3H208zM187 200.3H190V203.3H187zM169 203.3H172V206.2H169zM148 206.2H154V209.1H148zM133 209.1H136V212.1H133zM115 212.1H118V215H115zM100 215H103V217.9H100zM85 217.9H88V220.9H85zM70 220.9H73V223.8H70zM55 223.8H58V226.8H55zM43 226.8H46V229.7H43zM28 229.7H31V232.6H28zM322 291.3H328V294.2H322zM307 294.2H310V297.2H307zM289 297.2H292V300.1H289zM271 300.1H274V303H271zM253 303H256V306H253zM235 306H238V308.9H235zM214 308.9H217V311.9H214zM196 311.9H199V314.8H196zM175 314.8H178V317.7H175zM154 317.7H157V320.7H154zM133 320.7H136V323.6H133zM112 323.6H115V326.5H112zM88 326.5H94V329.5H88zM64 329.5H70V332.4H64zM40 332.4H46V335.3H40z"/><path fill="#f8d021" d="M289 188.6H298V191.5H289zM262 191.5H268V194.5H262zM235 194.5H241V197.4H235zM211 197.4H220V200.3H211zM190 200.3H196V203.3H190zM172 203.3H178V206.2H172zM154 206.2H157V209.1H154zM136 209.1H139V212.1H136zM118 212.1H124V215H118zM103 215H106V217.9H103zM88 217.9H91V220.9H88zM73 220.9H76V223.8H73zM58 223.8H64V226.8H58zM46 226.8H49V229.7H46zM31 229.7H34V232.6H31zM319 291.3H322V294.2H319zM301 294.2H307V297.2H301zM283 297.2H289V300.1H283zM265 300.1H271V303H265zM247 303H253V306H247zM229 306H235V308.9H229zM208 308.9H214V311.9H208zM190 311.9H196V314.8H190zM169 314.8H175V317.7H169zM148 317.7H154V320.7H148zM127 320.7H133V323.6H127zM106 323.6H112V326.5H106zM82 326.5H88V329.5H82zM58 329.5H64V332.4H58zM34 332.4H40V335.3H34z"/><path fill="#f8c71f" d="M298 188.6H307V191.5H298zM268 191.5H277V194.5H268zM241 194.5H250V197.4H241zM220 197.4H226V200.3H220zM196 200.3H205V203.3H196zM178 203.3H184V206.2H178zM157 206.2H163V209.1H157zM139 209.1H145V212.1H139zM124 212.1H130V215H124zM106 215H112V217.9H106zM91 217.9H97V220.9H91zM76 220.9H82V223.8H76zM64 223.8H67V226.8H64zM49 226.8H52V229.7H49zM34 229.7H40V232.6H34zM328 288.4H334V291.3H328zM313 291.3H319V294.2H313zM295 294.2H301V297.2H295zM277 297.2H283V300.1H277zM259 300.1H265V303H259zM241 303H247V306H241zM223 306H229V308.9H223zM202 308.9H208V311.9H202zM184 311.9H190V314.8H184zM163 314.8H169V317.7H163zM142 317.7H148V320.7H142zM121 320.7H127V323.6H121zM97 323.6H106V326.5H97zM76 326.5H82V329.5H76zM52 329.5H58V332.4H52zM28 332.4H34V335.3H28z"/><path fill="#f8bd1c" d="M307 188.6H313V191.5H307zM277 191.5H283V194.5H277zM250 194.5H256V197.4H250zM226 197.4H232V200.3H226zM205 200.3H211V203.3H205zM184 203.3H190V206.2H184zM163 206.2H169V209.1H163zM145 209.1H151V212.1H145zM130 212.1H133V215H130zM112 215H118V217.9H112zM97 217.9H103V220.9H97zM82 220.9H85V223.8H82zM67 223.8H70V226.8H67zM52 226.8H58V229.7H52zM40 229.7H43V232.6H40zM28 232.6H31V235.6H28zM322 288.4H328V291.3H322zM307 291.3H313V294.2H307zM289 294.2H295V297.2H289zM271 297.2H277V300.1H271zM253 300.1H259V303H253zM235 303H241V306H235zM217 306H223V308.9H217zM196 308.9H202V311.9H196zM178 311.9H184V314.8H178zM157 314.8H163V317.7H157zM136 317.7H142V320.7H136zM115 320.7H121V323.6H115zM91 323.6H97V326.5H91zM70 326.5H76V329.5H70zM46 329.5H52V332.4H46z"/><path fill="#f8b51b" d="M313 188.6H322V191.5H313zM283 191.5H292V194.5H283zM256 194.5H262V197.4H256zM232 197.4H238V200.3H232zM211 200.3H217V203.3H211zM190 203.3H196V206.2H190zM169 206.2H175V209.1H169zM151 209.1H157V212.1H151zM133 212.1H139V215H133zM118 215H121V217.9H118zM103 217.9H106V220.9H103zM85 220.9H91V223.8H85zM70 223.8H76V226.8H70zM58 226.8H61V229.7H58zM43 229.7H46V232.6H43zM31 232.6H34V235.6H31zM319 288.4H322V291.3H319zM301 291.3H307V294.2H301zM283 294.2H289V297.2H283zM265 297.2H271V300.1H265zM247 300.1H253V303H247zM229 303H235V306H229zM211 306H217V308.9H211zM190 308.9H196V311.9H190zM172 311.9H178V314.8H172zM151 314.8H157V317.7H151zM130 317.7H136V320.7H130zM109 320.7H115V323.6H109zM85 323.6H91V326.5H85zM61 326.5H70V329.5H61zM37 329.5H46V332.4H37z"/><path fill="#f8ae19" d="M322 188.6H331V191.5H322zM292 191.5H298V194.5H292zM262 194.5H268V197.4H262zM238 197.4H244V200.3H238zM217 200.3H220V203.3H217zM196 203.3H199V206.2H196zM175 206.2H181V209.1H175zM157 209.1H160V212.1H157zM139 212.1H142V215H139zM121 215H127V217.9H121zM106 217.9H109V220.9H106zM91 220.9H94V223.8H91zM76 223.8H79V226.8H76zM61 226.8H64V229.7H61zM46 229.7H52V232.6H46zM34 232.6H37V235.6H34zM328 285.4H334V288.4H328zM313 288.4H319V291.3H313zM295 291.3H301V294.2H295zM280 294.2H283V297.2H280zM262 297.2H265V300.1H262zM244 300.1H247V303H244zM226 303H229V306H226zM205 306H211V308.9H205zM187 308.9H190V311.9H187zM166 311.9H172V314.8H166zM145 314.8H151V317.7H145zM124 317.7H130V320.7H124zM103 320.7H109V323.6H103zM79 323.6H85V326.5H79zM55 326.5H61V329.5H55zM31 329.5H37V332.4H31z"/><path fill="#f8a718" d="M331 188.6H334V191.5H331zM298 191.5H304V194.5H298zM268 194.5H274V197.4H268zM244 197.4H250V200.3H244zM220 200.3H226V203.3H220zM199 203.3H205V206.2H199zM181 206.2H184V209.1H181zM160 209.1H166V212.1H160zM142 212.1H148V215H142zM127 215H130V217.9H127zM109 217.9H115V220.9H109zM94 220.9H97V223.8H94zM79 223.8H82V226.8H79zM64 226.8H67V229.7H64zM52 229.7H55V232.6H52zM37 232.6H40V235.6H37zM325 285.4H328V288.4H325zM310 288.4H313V291.3H310zM292 291.3H295V294.2H292zM274 294.2H280V297.2H274zM256 297.2H262V300.1H256zM238 300.1H244V303H238zM220 303H226V306H220zM202 306H205V308.9H202zM181 308.9H187V311.9H181zM163 311.9H166V314.8H163zM142 314.8H145V317.7H142zM121 317.7H124V320.7H121zM97 320.7H103V323.6H97zM76 323.6H79V326.5H76zM52 326.5H55V329.5H52zM28 329.5H31V332.4H28z"/><path fill="#3c2fa7" d="M61 191.5H64V194.5H61zM34 197.4H37V200.3H34zM328 326.5H331V329.5H328zM304 329.5H307V332.4H304zM283 332.4H286V335.3H283zM259 335.3H262V338.3H259zM238 338.3H241V341.2H238z"/><path fill="#f6a118" d="M304 191.5H310V194.5H304zM274 194.5H280V197.4H274zM250 197.4H256V200.3H250zM226 200.3H232V203.3H226zM205 203.3H208V206.2H205zM184 206.2H187V209.1H184zM166 209.1H169V212.1H166zM148 212.1H151V215H148zM130 215H133V217.9H130zM115 217.9H118V220.9H115zM97 220.9H100V223.8H97zM82 223.8H85V226.8H82zM67 226.8H70V229.7H67zM55 229.7H58V232.6H55zM40 232.6H43V235.6H40zM28 235.6H31V238.5H28zM322 285.4H325V288.4H322zM304 288.4H310V291.3H304zM286 291.3H292V294.2H286zM271 294.2H274V297.2H271zM253 297.2H256V300.1H253zM235 300.1H238V303H235zM217 303H220V306H217zM196 306H202V308.9H196zM178 308.9H181V311.9H178zM157 311.9H163V314.8H157zM136 314.8H142V317.7H136zM115 317.7H121V320.7H115zM94 320.7H97V323.6H94zM70 323.6H76V326.5H70zM46 326.5H52V329.5H46z"/><path fill="#f59b18" d="M310 191.5H319V194.5H310zM280 194.5H289V197.4H280zM256 197.4H262V200.3H256zM232 200.3H235V203.3H232zM208 203.3H214V206.2H208zM187 206.2H193V209.1H187zM169 209.1H175V212.1H169zM151 212.1H154V215H151zM133 215H139V217.9H133zM118 217.9H121V220.9H118zM100 220.9H106V223.8H100zM85 223.8H88V226.8H85zM70 226.8H73V229.7H70zM58 229.7H61V232.6H58zM43 232.6H46V235.6H43zM316 285.4H322V288.4H316zM301 288.4H304V291.3H301zM283 291.3H286V294.2H283zM265 294.2H271V297.2H265zM247 297.2H253V300.1H247zM229 300.1H235V303H229zM211 303H217V306H211zM193 306H196V308.9H193zM172 308.9H178V311.9H172zM151 311.9H157V314.8H151zM130 314.8H136V317.7H130zM109 317.7H115V320.7H109zM88 320.7H94V323.6H88zM64 323.6H70V326.5H64zM40 326.5H46V329.5H40z"/><path fill="#f49517" d="M319 191.5H328V194.5H319zM289 194.5H295V197.4H289zM262 197.4H268V200.3H262zM235 200.3H241V203.3H235zM214 203.3H220V206.2H214zM193 206.2H199V209.1H193zM175 209.1H178V212.1H175zM154 212.1H160V215H154zM139 215H142V217.9H139zM121 217.9H124V220.9H121zM106 220.9H109V223.8H106zM88 223.8H94V226.8H88zM73 226.8H79V229.7H73zM61 229.7H64V232.6H61zM46 232.6H49V235.6H46zM31 235.6H34V238.5H31zM328 282.5H334V285.4H328zM313 285.4H316V288.4H313zM295 288.4H301V291.3H295zM280 291.3H283V294.2H280zM262 294.2H265V297.2H262zM244 297.2H247V300.1H244zM226 300.1H229V303H226zM208 303H211V306H208zM187 306H193V308.9H187zM169 308.9H172V311.9H169zM148 311.9H151V314.8H148zM127 314.8H130V317.7H127zM106 317.7H109V320.7H106zM82 320.7H88V323.6H82zM58 323.6H64V326.5H58zM34 326.5H40V329.5H34z"/><path fill="#f48f16" d="M328 191.5H334V194.5H328zM295 194.5H304V197.4H295zM268 197.4H274V200.3H268zM241 200.3H250V203.3H241zM220 203.3H226V206.2H220zM199 206.2H205V209.1H199zM178 209.1H184V212.1H178zM160 212.1H163V215H160zM142 215H145V217.9H142zM124 217.9H130V220.9H124zM109 220.9H112V223.8H109zM94 223.8H97V226.8H94zM79 226.8H82V229.7H79zM64 229.7H67V232.6H64zM49 232.6H52V235.6H49zM34 235.6H37V238.5H34zM325 282.5H328V285.4H325zM307 285.4H313V288.4H307zM292 288.4H295V291.3H292zM274 291.3H280V294.2H274zM256 294.2H262V297.2H256zM238 297.2H244V300.1H238zM220 300.1H226V303H220zM202 303H208V306H202zM181 306H187V308.9H181zM163 308.9H169V311.9H163zM142 311.9H148V314.8H142zM121 314.8H127V317.7H121zM100 317.7H106V320.7H100zM76 320.7H82V323.6H76zM52 323.6H58V326.5H52zM28 326.5H34V329.5H28z"/><path fill="#403ab1" d="M52 194.5H55V197.4H52zM37 197.4H40V200.3H37zM310 326.5H316V329.5H310zM289 329.5H295V332.4H289zM265 332.4H271V335.3H265zM244 335.3H250V338.3H244zM223 338.3H229V341.2H223z"/><path fill="#f48914" d="M304 194.5H313V197.4H304zM274 197.4H283V200.3H274zM250 200.3H256V203.3H250zM226 203.3H232V206.2H226zM205 206.2H211V209.1H205zM184 209.1H190V212.1H184zM163 212.1H169V215H163zM145 215H151V217.9H145zM130 217.9H133V220.9H130zM112 220.9H118V223.8H112zM97 223.8H100V226.8H97zM82 226.8H85V229.7H82zM67 229.7H70V232.6H67zM52 232.6H55V235.6H52zM37 235.6H43V238.5H37zM319 282.5H325V285.4H319zM304 285.4H307V288.4H304zM286 288.4H292V291.3H286zM268 291.3H274V294.2H268zM250 294.2H256V297.2H250zM232 297.2H238V300.1H232zM214 300.1H220V303H214zM196 303H202V306H196zM175 306H181V308.9H175zM157 308.9H163V311.9H157zM136 311.9H142V314.8H136zM115 314.8H121V317.7H115zM94 317.7H100V320.7H94zM70 320.7H76V323.6H70zM46 323.6H52V326.5H46z"/><path fill="#f38113" d="M313 194.5H322V197.4H313zM283 197.4H292V200.3H283zM256 200.3H265V203.3H256zM232 203.3H241V206.2H232zM211 206.2H217V209.1H211zM190 209.1H196V212.1H190zM169 212.1H175V215H169zM151 215H157V217.9H151zM133 217.9H139V220.9H133zM118 220.9H121V223.8H118zM100 223.8H106V226.8H100zM85 226.8H91V229.7H85zM70 229.7H76V232.6H70zM55 232.6H61V235.6H55zM43 235.6H46V238.5H43zM28 238.5H31V241.4H28zM331 279.6H334V282.5H331zM313 282.5H319V285.4H313zM298 285.4H304V288.4H298zM280 288.4H286V291.3H280zM262 291.3H268V294.2H262zM247 294.2H250V297.2H247zM229 297.2H232V300.1H229zM208 300.1H214V303H208zM190 303H196V306H190zM172 306H175V308.9H172zM151 308.9H157V311.9H151zM130 311.9H136V314.8H130zM109 314.8H115V317.7H109zM85 317.7H94V320.7H85zM61 320.7H70V323.6H61zM37 323.6H46V326.5H37z"/><path fill="#f17911" d="M322 194.5H334V197.4H322zM292 197.4H301V200.3H292zM265 200.3H274V203.3H265zM241 203.3H247V206.2H241zM217 206.2H223V209.1H217zM196 209.1H202V212.1H196zM175 212.1H184V215H175zM157 215H163V217.9H157zM139 217.9H145V220.9H139zM121 220.9H127V223.8H121zM106 223.8H112V226.8H106zM91 226.8H94V229.7H91zM76 229.7H79V232.6H76zM61 232.6H64V235.6H61zM46 235.6H52V238.5H46zM31 238.5H37V241.4H31zM325 279.6H331V282.5H325zM310 282.5H313V285.4H310zM292 285.4H298V288.4H292zM274 288.4H280V291.3H274zM259 291.3H262V294.2H259zM241 294.2H247V297.2H241zM223 297.2H229V300.1H223zM202 300.1H208V303H202zM184 303H190V306H184zM163 306H172V308.9H163zM145 308.9H151V311.9H145zM124 311.9H130V314.8H124zM100 314.8H109V317.7H100zM79 317.7H85V320.7H79zM55 320.7H61V323.6H55zM28 323.6H37V326.5H28z"/><path fill="#f07210" d="M301 197.4H313V200.3H301zM274 200.3H283V203.3H274zM247 203.3H256V206.2H247zM223 206.2H232V209.1H223zM202 209.1H211V212.1H202zM184 212.1H190V215H184zM163 215H169V217.9H163zM145 217.9H151V220.9H145zM127 220.9H133V223.8H127zM112 223.8H118V226.8H112zM94 226.8H100V229.7H94zM79 229.7H85V232.6H79zM64 232.6H70V235.6H64zM52 235.6H55V238.5H52zM37 238.5H40V241.4H37zM319 279.6H325V282.5H319zM304 282.5H310V285.4H304zM286 285.4H292V288.4H286zM271 288.4H274V291.3H271zM253 291.3H259V294.2H253zM235 294.2H241V297.2H235zM217 297.2H223V300.1H217zM196 300.1H202V303H196zM178 303H184V306H178zM157 306H163V308.9H157zM136 308.9H145V311.9H136zM115 311.9H124V314.8H115zM94 314.8H100V317.7H94zM70 317.7H79V320.7H70zM46 320.7H55V323.6H46z"/><path fill="#ef6a10" d="M313 197.4H322V200.3H313zM283 200.3H292V203.3H283zM256 203.3H265V206.2H256zM232 206.2H241V209.1H232zM211 209.1H217V212.1H211zM190 212.1H196V215H190zM169 215H175V217.9H169zM151 217.9H157V220.9H151zM133 220.9H139V223.8H133zM118 223.8H124V226.8H118zM100 226.8H106V229.7H100zM85 229.7H91V232.6H85zM70 232.6H76V235.6H70zM55 235.6H61V238.5H55zM40 238.5H46V241.4H40zM28 241.4H31V244.4H28zM331 276.6H334V279.6H331zM313 279.6H319V282.5H313zM298 282.5H304V285.4H298zM280 285.4H286V288.4H280zM265 288.4H271V291.3H265zM247 291.3H253V294.2H247zM229 294.2H235V297.2H229zM211 297.2H217V300.1H211zM193 300.1H196V303H193zM172 303H178V306H172zM151 306H157V308.9H151zM130 308.9H136V311.9H130zM109 311.9H115V314.8H109zM88 314.8H94V317.7H88zM64 317.7H70V320.7H64zM37 320.7H46V323.6H37z"/><path fill="#ee6310" d="M322 197.4H331V200.3H322zM292 200.3H301V203.3H292zM265 203.3H271V206.2H265zM241 206.2H247V209.1H241zM217 209.1H223V212.1H217zM196 212.1H202V215H196zM175 215H184V217.9H175zM157 217.9H163V220.9H157zM139 220.9H145V223.8H139zM124 223.8H127V226.8H124zM106 226.8H112V229.7H106zM91 229.7H97V232.6H91zM76 232.6H82V235.6H76zM61 235.6H67V238.5H61zM46 238.5H52V241.4H46zM31 241.4H37V244.4H31zM325 276.6H331V279.6H325zM310 279.6H313V282.5H310zM292 282.5H298V285.4H292zM277 285.4H280V288.4H277zM259 288.4H265V291.3H259zM241 291.3H247V294.2H241zM223 294.2H229V297.2H223zM205 297.2H211V300.1H205zM187 300.1H193V303H187zM166 303H172V306H166zM145 306H151V308.9H145zM124 308.9H130V311.9H124zM103 311.9H109V314.8H103zM79 314.8H88V317.7H79zM55 317.7H64V320.7H55zM28 320.7H37V323.6H28z"/><path fill="#ed5c10" d="M331 197.4H334V200.3H331zM301 200.3H310V203.3H301zM271 203.3H280V206.2H271zM247 206.2H256V209.1H247zM223 209.1H232V212.1H223zM202 212.1H211V215H202zM184 215H190V217.9H184zM163 217.9H169V220.9H163zM145 220.9H151V223.8H145zM127 223.8H133V226.8H127zM112 226.8H118V229.7H112zM97 229.7H103V232.6H97zM82 232.6H85V235.6H82zM67 235.6H70V238.5H67zM52 238.5H55V241.4H52zM37 241.4H43V244.4H37zM319 276.6H325V279.6H319zM304 279.6H310V282.5H304zM289 282.5H292V285.4H289zM271 285.4H277V288.4H271zM253 288.4H259V291.3H253zM235 291.3H241V294.2H235zM217 294.2H223V297.2H217zM199 297.2H205V300.1H199zM181 300.1H187V303H181zM160 303H166V306H160zM139 306H145V308.9H139zM118 308.9H124V311.9H118zM94 311.9H103V314.8H94zM70 314.8H79V317.7H70zM46 317.7H55V320.7H46z"/><path fill="#eb5511" d="M310 200.3H319V203.3H310zM280 203.3H289V206.2H280zM256 206.2H262V209.1H256zM232 209.1H238V212.1H232zM211 212.1H217V215H211zM190 215H196V217.9H190zM169 217.9H178V220.9H169zM151 220.9H157V223.8H151zM133 223.8H139V226.8H133zM118 226.8H124V229.7H118zM103 229.7H106V232.6H103zM85 232.6H91V235.6H85zM70 235.6H76V238.5H70zM55 238.5H61V241.4H55zM43 241.4H46V244.4H43zM28 244.4H34V247.3H28zM331 273.7H334V276.6H331zM316 276.6H319V279.6H316zM298 279.6H304V282.5H298zM283 282.5H289V285.4H283zM265 285.4H271V288.4H265zM247 288.4H253V291.3H247zM229 291.3H235V294.2H229zM211 294.2H217V297.2H211zM193 297.2H199V300.1H193zM175 300.1H181V303H175zM154 303H160V306H154zM133 306H139V308.9H133zM112 308.9H118V311.9H112zM88 311.9H94V314.8H88zM64 314.8H70V317.7H64zM40 317.7H46V320.7H40z"/><path fill="#ea5012" d="M319 200.3H328V203.3H319zM289 203.3H298V206.2H289zM262 206.2H271V209.1H262zM238 209.1H247V212.1H238zM217 212.1H223V215H217zM196 215H202V217.9H196zM178 217.9H184V220.9H178zM157 220.9H163V223.8H157zM139 223.8H145V226.8H139zM124 226.8H130V229.7H124zM106 229.7H112V232.6H106zM91 232.6H97V235.6H91zM76 235.6H82V238.5H76zM61 238.5H67V241.4H61zM46 241.4H52V244.4H46zM34 244.4H37V247.3H34zM325 273.7H331V276.6H325zM310 276.6H316V279.6H310zM295 279.6H298V282.5H295zM277 282.5H283V285.4H277zM259 285.4H265V288.4H259zM241 288.4H247V291.3H241zM223 291.3H229V294.2H223zM205 294.2H211V297.2H205zM187 297.2H193V300.1H187zM166 300.1H175V303H166zM148 303H154V306H148zM127 306H133V308.9H127zM103 308.9H112V311.9H103zM82 311.9H88V314.8H82zM58 314.8H64V317.7H58zM31 317.7H40V320.7H31z"/><path fill="#e94a13" d="M328 200.3H334V203.3H328zM298 203.3H307V206.2H298zM271 206.2H280V209.1H271zM247 209.1H256V212.1H247zM223 212.1H232V215H223zM202 215H211V217.9H202zM184 217.9H190V220.9H184zM163 220.9H172V223.8H163zM145 223.8H151V226.8H145zM130 226.8H136V229.7H130zM112 229.7H118V232.6H112zM97 232.6H103V235.6H97zM82 235.6H85V238.5H82zM67 238.5H70V241.4H67zM52 241.4H58V244.4H52zM37 244.4H43V247.3H37zM322 273.7H325V276.6H322zM304 276.6H310V279.6H304zM289 279.6H295V282.5H289zM271 282.5H277V285.4H271zM253 285.4H259V288.4H253zM238 288.4H241V291.3H238zM217 291.3H223V294.2H217zM199 294.2H205V297.2H199zM181 297.2H187V300.1H181zM160 300.1H166V303H160zM139 303H148V306H139zM118 306H127V308.9H118zM97 308.9H103V311.9H97zM73 311.9H82V314.8H73zM49 314.8H58V317.7H49zM28 317.7H31V320.7H28z"/><path fill="#e84514" d="M307 203.3H316V206.2H307zM280 206.2H289V209.1H280zM256 209.1H265V212.1H256zM232 212.1H241V215H232zM211 215H220V217.9H211zM190 217.9H199V220.9H190zM172 220.9H178V223.8H172zM151 223.8H160V226.8H151zM136 226.8H142V229.7H136zM118 229.7H124V232.6H118zM103 232.6H109V235.6H103zM85 235.6H91V238.5H85zM70 238.5H76V241.4H70zM58 241.4H61V244.4H58zM43 244.4H46V247.3H43zM28 247.3H34V250.2H28zM331 270.8H334V273.7H331zM316 273.7H322V276.6H316zM298 276.6H304V279.6H298zM283 279.6H289V282.5H283zM265 282.5H271V285.4H265zM247 285.4H253V288.4H247zM232 288.4H238V291.3H232zM211 291.3H217V294.2H211zM193 294.2H199V297.2H193zM175 297.2H181V300.1H175zM154 300.1H160V303H154zM133 303H139V306H133zM112 306H118V308.9H112zM91 308.9H97V311.9H91zM67 311.9H73V314.8H67zM43 314.8H49V317.7H43z"/><path fill="#e74115" d="M316 203.3H328V206.2H316zM289 206.2H298V209.1H289zM265 209.1H274V212.1H265zM241 212.1H250V215H241zM220 215H226V217.9H220zM199 217.9H208V220.9H199zM178 220.9H187V223.8H178zM160 223.8H166V226.8H160zM142 226.8H148V229.7H142zM124 229.7H133V232.6H124zM109 232.6H115V235.6H109zM91 235.6H97V238.5H91zM76 238.5H82V241.4H76zM61 241.4H67V244.4H61zM46 244.4H52V247.3H46zM34 247.3H37V250.2H34zM325 270.8H331V273.7H325zM310 273.7H316V276.6H310zM292 276.6H298V279.6H292zM277 279.6H283V282.5H277zM259 282.5H265V285.4H259zM244 285.4H247V288.4H244zM226 288.4H232V291.3H226zM208 291.3H211V294.2H208zM187 294.2H193V297.2H187zM169 297.2H175V300.1H169zM148 300.1H154V303H148zM127 303H133V306H127zM106 306H112V308.9H106zM82 308.9H91V311.9H82zM58 311.9H67V314.8H58zM34 314.8H43V317.7H34z"/><path fill="#e63d16" d="M328 203.3H334V206.2H328zM298 206.2H307V209.1H298zM274 209.1H283V212.1H274zM250 212.1H259V215H250zM226 215H235V217.9H226zM208 217.9H214V220.9H208zM187 220.9H196V223.8H187zM166 223.8H175V226.8H166zM148 226.8H157V229.7H148zM133 229.7H139V232.6H133zM115 232.6H121V235.6H115zM97 235.6H103V238.5H97zM82 238.5H88V241.4H82zM67 241.4H73V244.4H67zM52 244.4H58V247.3H52zM37 247.3H43V250.2H37zM319 270.8H325V273.7H319zM304 273.7H310V276.6H304zM289 276.6H292V279.6H289zM271 279.6H277V282.5H271zM253 282.5H259V285.4H253zM238 285.4H244V288.4H238zM220 288.4H226V291.3H220zM202 291.3H208V294.2H202zM181 294.2H187V297.2H181zM163 297.2H169V300.1H163zM142 300.1H148V303H142zM121 303H127V306H121zM97 306H106V308.9H97zM76 308.9H82V311.9H76zM52 311.9H58V314.8H52zM28 314.8H34V317.7H28z"/><path fill="#e53a17" d="M307 206.2H316V209.1H307zM283 209.1H289V212.1H283zM259 212.1H265V215H259zM235 215H244V217.9H235zM214 217.9H223V220.9H214zM196 220.9H202V223.8H196zM175 223.8H181V226.8H175zM157 226.8H163V229.7H157zM139 229.7H145V232.6H139zM121 232.6H127V235.6H121zM103 235.6H112V238.5H103zM88 238.5H94V241.4H88zM73 241.4H79V244.4H73zM58 244.4H61V247.3H58zM43 247.3H46V250.2H43zM28 250.2H31V253.2H28zM328 267.8H334V270.8H328zM313 270.8H319V273.7H313zM298 273.7H304V276.6H298zM283 276.6H289V279.6H283zM265 279.6H271V282.5H265zM247 282.5H253V285.4H247zM232 285.4H238V288.4H232zM214 288.4H220V291.3H214zM193 291.3H202V294.2H193zM175 294.2H181V297.2H175zM154 297.2H163V300.1H154zM136 300.1H142V303H136zM112 303H121V306H112zM91 306H97V308.9H91zM67 308.9H76V311.9H67zM43 311.9H52V314.8H43z"/><path fill="#e43618" d="M316 206.2H322V209.1H316zM289 209.1H295V212.1H289zM265 212.1H274V215H265zM244 215H250V217.9H244zM223 217.9H229V220.9H223zM202 220.9H208V223.8H202zM181 223.8H190V226.8H181zM163 226.8H169V229.7H163zM145 229.7H151V232.6H145zM127 232.6H133V235.6H127zM112 235.6H118V238.5H112zM94 238.5H100V241.4H94zM79 241.4H82V244.4H79zM61 244.4H67V247.3H61zM46 247.3H52V250.2H46zM31 250.2H37V253.2H31zM325 267.8H328V270.8H325zM310 270.8H313V273.7H310zM292 273.7H298V276.6H292zM277 276.6H283V279.6H277zM259 279.6H265V282.5H259zM244 282.5H247V285.4H244zM226 285.4H232V288.4H226zM208 288.4H214V291.3H208zM190 291.3H193V294.2H190zM169 294.2H175V297.2H169zM148 297.2H154V300.1H148zM127 300.1H136V303H127zM106 303H112V306H106zM85 306H91V308.9H85zM61 308.9H67V311.9H61zM34 311.9H43V314.8H34z"/><path fill="#e43318" d="M322 206.2H328V209.1H322zM295 209.1H304V212.1H295zM274 212.1H280V215H274zM250 215H256V217.9H250zM229 217.9H235V220.9H229zM208 220.9H214V223.8H208zM190 223.8H196V226.8H190zM169 226.8H175V229.7H169zM151 229.7H157V232.6H151zM133 232.6H139V235.6H133zM118 235.6H124V238.5H118zM100 238.5H106V241.4H100zM82 241.4H88V244.4H82zM67 244.4H73V247.3H67zM52 247.3H58V250.2H52zM37 250.2H43V253.2H37zM319 267.8H325V270.8H319zM304 270.8H310V273.7H304zM289 273.7H292V276.6H289zM271 276.6H277V279.6H271zM256 279.6H259V282.5H256zM238 282.5H244V285.4H238zM220 285.4H226V288.4H220zM202 288.4H208V291.3H202zM184 291.3H190V294.2H184zM163 294.2H169V297.2H163zM142 297.2H148V300.1H142zM121 300.1H127V303H121zM100 303H106V306H100zM76 306H85V308.9H76zM52 308.9H61V311.9H52zM28 311.9H34V314.8H28z"/><path fill="#e43018" d="M328 206.2H334V209.1H328zM304 209.1H310V212.1H304zM280 212.1H286V215H280zM256 215H265V217.9H256zM235 217.9H241V220.9H235zM214 220.9H223V223.8H214zM196 223.8H202V226.8H196zM175 226.8H184V229.7H175zM157 229.7H163V232.6H157zM139 232.6H145V235.6H139zM124 235.6H127V238.5H124zM106 238.5H112V241.4H106zM88 241.4H94V244.4H88zM73 244.4H79V247.3H73zM58 247.3H61V250.2H58zM43 250.2H46V253.2H43zM28 253.2H31V256.1H28zM331 264.9H334V267.8H331zM316 267.8H319V270.8H316zM301 270.8H304V273.7H301zM283 273.7H289V276.6H283zM268 276.6H271V279.6H268zM250 279.6H256V282.5H250zM232 282.5H238V285.4H232zM214 285.4H220V288.4H214zM196 288.4H202V291.3H196zM178 291.3H184V294.2H178zM157 294.2H163V297.2H157zM136 297.2H142V300.1H136zM115 300.1H121V303H115zM94 303H100V306H94zM70 306H76V308.9H70zM46 308.9H52V311.9H46z"/><path fill="#e02e18" d="M310 209.1H316V212.1H310zM286 212.1H292V215H286zM265 215H271V217.9H265zM241 217.9H250V220.9H241zM223 220.9H229V223.8H223zM202 223.8H208V226.8H202zM184 226.8H190V229.7H184zM163 229.7H169V232.6H163zM145 232.6H151V235.6H145zM127 235.6H133V238.5H127zM112 238.5H118V241.4H112zM94 241.4H100V244.4H94zM79 244.4H85V247.3H79zM61 247.3H67V250.2H61zM46 250.2H52V253.2H46zM31 253.2H37V256.1H31zM328 264.9H331V267.8H328zM313 267.8H316V270.8H313zM295 270.8H301V273.7H295zM280 273.7H283V276.6H280zM262 276.6H268V279.6H262zM244 279.6H250V282.5H244zM226 282.5H232V285.4H226zM208 285.4H214V288.4H208zM190 288.4H196V291.3H190zM169 291.3H178V294.2H169zM151 294.2H157V297.2H151zM130 297.2H136V300.1H130zM109 300.1H115V303H109zM85 303H94V306H85zM61 306H70V308.9H61zM37 308.9H46V311.9H37z"/><path fill="#dc2c18" d="M316 209.1H325V212.1H316zM292 212.1H301V215H292zM271 215H277V217.9H271zM250 217.9H256V220.9H250zM229 220.9H235V223.8H229zM208 223.8H214V226.8H208zM190 226.8H196V229.7H190zM169 229.7H175V232.6H169zM151 232.6H157V235.6H151zM133 235.6H139V238.5H133zM118 238.5H124V241.4H118zM100 241.4H106V244.4H100zM85 244.4H88V247.3H85zM67 247.3H73V250.2H67zM52 250.2H58V253.2H52zM37 253.2H43V256.1H37zM325 264.9H328V267.8H325zM307 267.8H313V270.8H307zM292 270.8H295V273.7H292zM274 273.7H280V276.6H274zM256 276.6H262V279.6H256zM238 279.6H244V282.5H238zM220 282.5H226V285.4H220zM202 285.4H208V288.4H202zM184 288.4H190V291.3H184zM163 291.3H169V294.2H163zM142 294.2H151V297.2H142zM121 297.2H130V300.1H121zM100 300.1H109V303H100zM76 303H85V306H76zM55 306H61V308.9H55zM28 308.9H37V311.9H28z"/><path fill="#d52a18" d="M325 209.1H334V212.1H325zM301 212.1H310V215H301zM277 215H286V217.9H277zM256 217.9H265V220.9H256zM235 220.9H244V223.8H235zM214 223.8H223V226.8H214zM196 226.8H202V229.7H196zM175 229.7H184V232.6H175zM157 232.6H166V235.6H157zM139 235.6H148V238.5H139zM124 238.5H130V241.4H124zM106 241.4H112V244.4H106zM88 244.4H97V247.3H88zM73 247.3H79V250.2H73zM58 250.2H64V253.2H58zM43 253.2H49V256.1H43zM28 256.1H34V259H28zM319 264.9H325V267.8H319zM301 267.8H307V270.8H301zM286 270.8H292V273.7H286zM268 273.7H274V276.6H268zM250 276.6H256V279.6H250zM232 279.6H238V282.5H232zM214 282.5H220V285.4H214zM196 285.4H202V288.4H196zM175 288.4H184V291.3H175zM154 291.3H163V294.2H154zM136 294.2H142V297.2H136zM112 297.2H121V300.1H112zM91 300.1H100V303H91zM67 303H76V306H67zM43 306H55V308.9H43z"/><path fill="#cf2818" d="M310 212.1H328V215H310zM286 215H304V217.9H286zM265 217.9H280V220.9H265zM244 220.9H259V223.8H244zM223 223.8H238V226.8H223zM202 226.8H217V229.7H202zM184 229.7H196V232.6H184zM166 232.6H178V235.6H166zM148 235.6H160V238.5H148zM130 238.5H142V241.4H130zM112 241.4H124V244.4H112zM97 244.4H106V247.3H97zM79 247.3H88V250.2H79zM64 250.2H73V253.2H64zM49 253.2H58V256.1H49zM34 256.1H40V259H34zM328 262H334V264.9H328zM310 264.9H319V267.8H310zM292 267.8H301V270.8H292zM277 270.8H286V273.7H277zM259 273.7H268V276.6H259zM238 276.6H250V279.6H238zM220 279.6H232V282.5H220zM202 282.5H214V285.4H202zM181 285.4H196V288.4H181zM163 288.4H175V291.3H163zM142 291.3H154V294.2H142zM121 294.2H136V297.2H121zM100 297.2H112V300.1H100zM76 300.1H91V303H76zM52 303H67V306H52zM28 306H43V308.9H28z"/><path fill="#c92618" d="M328 212.1H334V215H328zM304 215H316V217.9H304zM280 217.9H295V220.9H280zM259 220.9H271V223.8H259zM238 223.8H250V226.8H238zM217 226.8H229V229.7H217zM196 229.7H211V232.6H196zM178 232.6H190V235.6H178zM160 235.6H172V238.5H160zM142 238.5H154V241.4H142zM124 241.4H136V244.4H124zM106 244.4H118V247.3H106zM88 247.3H100V250.2H88zM73 250.2H82V253.2H73zM58 253.2H67V256.1H58zM40 256.1H49V259H40zM28 259H34V262H28zM319 262H328V264.9H319zM301 264.9H310V267.8H301zM283 267.8H292V270.8H283zM265 270.8H277V273.7H265zM247 273.7H259V276.6H247zM229 276.6H238V279.6H229zM208 279.6H220V282.5H208zM190 282.5H202V285.4H190zM169 285.4H181V288.4H169zM148 288.4H163V291.3H148zM127 291.3H142V294.2H127zM106 294.2H121V297.2H106zM85 297.2H100V300.1H85zM64 300.1H76V303H64zM40 303H52V306H40z"/><path fill="#c22318" d="M316 215H331V217.9H316zM295 217.9H307V220.9H295zM271 220.9H286V223.8H271zM250 223.8H265V226.8H250zM229 226.8H244V229.7H229zM211 229.7H223V232.6H211zM190 232.6H205V235.6H190zM172 235.6H184V238.5H172zM154 238.5H166V241.4H154zM136 241.4H148V244.4H136zM118 244.4H130V247.3H118zM100 247.3H112V250.2H100zM82 250.2H94V253.2H82zM67 253.2H79V256.1H67zM49 256.1H61V259H49zM34 259H46V262H34zM325 259H334V262H325zM307 262H319V264.9H307zM289 264.9H301V267.8H289zM271 267.8H283V270.8H271zM253 270.8H265V273.7H253zM235 273.7H247V276.6H235zM217 276.6H229V279.6H217zM196 279.6H208V282.5H196zM178 282.5H190V285.4H178zM157 285.4H169V288.4H157zM136 288.4H148V291.3H136zM115 291.3H127V294.2H115zM94 294.2H106V297.2H94zM70 297.2H85V300.1H70zM49 300.1H64V303H49zM28 303H40V306H28z"/><path fill="#b92118" d="M331 215H334V217.9H331zM307 217.9H328V220.9H307zM286 220.9H304V223.8H286zM265 223.8H283V226.8H265zM244 226.8H259V229.7H244zM223 229.7H238V232.6H223zM205 232.6H220V235.6H205zM184 235.6H199V238.5H184zM166 238.5H181V241.4H166zM148 241.4H160V244.4H148zM130 244.4H142V247.3H130zM112 247.3H124V250.2H112zM94 250.2H109V253.2H94zM79 253.2H91V256.1H79zM61 256.1H73V259H61zM331 256.1H334V259H331zM46 259H58V262H46zM313 259H325V262H313zM28 262H43V264.9H28zM295 262H307V264.9H295zM277 264.9H289V267.8H277zM256 267.8H271V270.8H256zM238 270.8H253V273.7H238zM220 273.7H235V276.6H220zM199 276.6H217V279.6H199zM181 279.6H196V282.5H181zM160 282.5H178V285.4H160zM142 285.4H157V288.4H142zM121 288.4H136V291.3H121zM100 291.3H115V294.2H100zM76 294.2H94V297.2H76zM55 297.2H70V300.1H55zM34 300.1H49V303H34z"/><path fill="#af1f18" d="M328 217.9H334V220.9H328zM304 220.9H322V223.8H304zM283 223.8H298V226.8H283zM259 226.8H277V229.7H259zM238 229.7H253V232.6H238zM220 232.6H235V235.6H220zM199 235.6H214V238.5H199zM181 238.5H193V241.4H181zM160 241.4H175V244.4H160zM142 244.4H157V247.3H142zM124 247.3H139V250.2H124zM109 250.2H121V253.2H109zM91 253.2H106V256.1H91zM73 256.1H88V259H73zM316 256.1H331V259H316zM58 259H73V262H58zM298 259H313V262H298zM43 262H55V264.9H43zM280 262H295V264.9H280zM28 264.9H40V267.8H28zM262 264.9H277V267.8H262zM244 267.8H256V270.8H244zM223 270.8H238V273.7H223zM205 273.7H220V276.6H205zM184 276.6H199V279.6H184zM166 279.6H181V282.5H166zM145 282.5H160V285.4H145zM124 285.4H142V288.4H124zM103 288.4H121V291.3H103zM82 291.3H100V294.2H82zM61 294.2H76V297.2H61zM37 297.2H55V300.1H37zM28 300.1H34V303H28z"/><path fill="#a51d18" d="M322 220.9H334V223.8H322zM298 223.8H319V226.8H298zM277 226.8H295V229.7H277zM253 229.7H271V232.6H253zM235 232.6H250V235.6H235zM214 235.6H229V238.5H214zM193 238.5H208V241.4H193zM175 241.4H190V244.4H175zM157 244.4H172V247.3H157zM139 247.3H154V250.2H139zM121 250.2H136V253.2H121zM106 253.2H118V256.1H106zM319 253.2H334V256.1H319zM88 256.1H100V259H88zM301 256.1H316V259H301zM73 259H85V262H73zM283 259H298V262H283zM55 262H70V264.9H55zM265 262H280V264.9H265zM40 264.9H55V267.8H40zM244 264.9H262V267.8H244zM28 267.8H37V270.8H28zM226 267.8H244V270.8H226zM208 270.8H223V273.7H208zM187 273.7H205V276.6H187zM169 276.6H184V279.6H169zM148 279.6H166V282.5H148zM127 282.5H145V285.4H127zM106 285.4H124V288.4H106zM85 288.4H103V291.3H85zM64 291.3H82V294.2H64zM40 294.2H61V297.2H40zM28 297.2H37V300.1H28z"/><path fill="#9a1b18" d="M319 223.8H334V226.8H319zM295 226.8H313V229.7H295zM271 229.7H289V232.6H271zM250 232.6H268V235.6H250zM229 235.6H247V238.5H229zM208 238.5H226V241.4H208zM190 241.4H205V244.4H190zM172 244.4H187V247.3H172zM154 247.3H169V250.2H154zM136 250.2H151V253.2H136zM322 250.2H334V253.2H322zM118 253.2H133V256.1H118zM304 253.2H319V256.1H304zM100 256.1H118V259H100zM286 256.1H301V259H286zM85 259H100V262H85zM268 259H283V262H268zM70 262H85V264.9H70zM250 262H265V264.9H250zM55 264.9H67V267.8H55zM229 264.9H244V267.8H229zM37 267.8H52V270.8H37zM211 267.8H226V270.8H211zM28 270.8H37V273.7H28zM190 270.8H208V273.7H190zM172 273.7H187V276.6H172zM151 276.6H169V279.6H151zM130 279.6H148V282.5H130zM109 282.5H127V285.4H109zM88 285.4H106V288.4H88zM67 288.4H85V291.3H67zM46 291.3H64V294.2H46zM28 294.2H40V297.2H28z"/><path fill="#901918" d="M313 226.8H325V229.7H313zM289 229.7H304V232.6H289zM268 232.6H280V235.6H268zM247 235.6H262V238.5H247zM226 238.5H241V241.4H226zM205 241.4H220V244.4H205zM187 244.4H202V247.3H187zM169 247.3H184V250.2H169zM328 247.3H334V250.2H328zM151 250.2H166V253.2H151zM310 250.2H322V253.2H310zM133 253.2H148V256.1H133zM292 253.2H304V256.1H292zM118 256.1H130V259H118zM274 256.1H286V259H274zM100 259H115V262H100zM256 259H268V262H256zM85 262H97V264.9H85zM235 262H250V264.9H235zM67 264.9H82V267.8H67zM217 264.9H229V267.8H217zM52 267.8H67V270.8H52zM196 267.8H211V270.8H196zM37 270.8H52V273.7H37zM178 270.8H190V273.7H178zM28 273.7H34V276.6H28zM157 273.7H172V276.6H157zM136 276.6H151V279.6H136zM115 279.6H130V282.5H115zM94 282.5H109V285.4H94zM73 285.4H88V288.4H73zM52 288.4H67V291.3H52zM28 291.3H46V294.2H28z"/><path fill="#871717" d="M325 226.8H331V229.7H325zM304 229.7H310V232.6H304zM280 232.6H292V235.6H280zM262 235.6H271V238.5H262zM241 238.5H253V241.4H241zM220 241.4H232V244.4H220zM202 244.4H214V247.3H202zM184 247.3H196V250.2H184zM322 247.3H328V250.2H322zM166 250.2H178V253.2H166zM304 250.2H310V253.2H304zM148 253.2H160V256.1H148zM286 253.2H292V256.1H286zM130 256.1H145V259H130zM268 256.1H274V259H268zM115 259H127V262H115zM247 259H256V262H247zM97 262H109V264.9H97zM229 262H235V264.9H229zM82 264.9H94V267.8H82zM208 264.9H217V267.8H208zM67 267.8H76V270.8H67zM187 267.8H196V270.8H187zM52 270.8H61V273.7H52zM166 270.8H178V273.7H166zM34 273.7H46V276.6H34zM148 273.7H157V276.6H148zM127 276.6H136V279.6H127zM106 279.6H115V282.5H106zM82 282.5H94V285.4H82zM61 285.4H73V288.4H61zM40 288.4H52V291.3H40z"/><path fill="#7e1515" d="M331 226.8H334V229.7H331zM310 229.7H334V232.6H310zM292 232.6H334V235.6H292zM271 235.6H334V238.5H271zM253 238.5H334V241.4H253zM232 241.4H334V244.4H232zM214 244.4H334V247.3H214zM196 247.3H322V250.2H196zM178 250.2H304V253.2H178zM160 253.2H286V256.1H160zM145 256.1H268V259H145zM127 259H247V262H127zM109 262H229V264.9H109zM94 264.9H208V267.8H94zM76 267.8H187V270.8H76zM61 270.8H166V273.7H61zM46 273.7H148V276.6H46zM28 276.6H127V279.6H28zM28 279.6H106V282.5H28zM28 282.5H82V285.4H28zM28 285.4H61V288.4H28zM28 288.4H40V291.3H28z"/><path fill="#3c2ca3" d="M307 329.5H310V332.4H307zM262 335.3H265V338.3H262zM241 338.3H244V341.2H241z"/><rect x="338" y="150.3" width="6" height="2.686" fill="#3c2ca0"/><rect x="338" y="147.9" width="6" height="2.686" fill="#3c2ca0"/><rect x="338" y="145.5" width="6" height="2.686" fill="#3c2ca0"/><rect x="338" y="143.2" width="6" height="2.686" fill="#3c2ca0"/><rect x="338" y="140.8" width="6" height="2.686" fill="#3c2ca0"/><rect x="338" y="138.4" width="6" height="2.686" fill="#3c2ca0"/><rect x="338" y="136" width="6" height="2.686" fill="#3c2ca0"/><rect x="338" y="133.6" width="6" height="2.686" fill="#3c2ca0"/><rect x="338" y="131.2" width="6" height="2.686" fill="#3c2ca0"/><rect x="338" y="128.8" width="6" height="2.686" fill="#3c2ca2"/><rect x="338" y="126.5" width="6" height="2.686" fill="#3c2ea6"/><rect x="338" y="124.1" width="6" height="2.686" fill="#3d32aa"/><rect x="338" y="121.7" width="6" height="2.686" fill="#4039b1"/><rect x="338" y="119.3" width="6" height="2.686" fill="#4043b8"/><rect x="338" y="116.9" width="6" height="2.686" fill="#4051c2"/><rect x="338" y="114.5" width="6" height="2.686" fill="#4062c9"/><rect x="338" y="112.1" width="6" height="2.686" fill="#4071d2"/><rect x="338" y="109.8" width="6" height="2.686" fill="#4381d9"/><rect x="338" y="107.4" width="6" height="2.686" fill="#4892de"/><rect x="338" y="105" width="6" height="2.686" fill="#4fa2e1"/><rect x="338" y="102.6" width="6" height="2.686" fill="#58b0e5"/><rect x="338" y="100.2" width="6" height="2.686" fill="#65bde8"/><rect x="338" y="97.82" width="6" height="2.686" fill="#76cbe8"/><rect x="338" y="95.44" width="6" height="2.686" fill="#80d4e3"/><rect x="338" y="93.05" width="6" height="2.686" fill="#83dadb"/><rect x="338" y="90.67" width="6" height="2.686" fill="#84dcd0"/><rect x="338" y="88.28" width="6" height="2.686" fill="#84dbc4"/><rect x="338" y="85.89" width="6" height="2.686" fill="#84d8b6"/><rect x="338" y="83.51" width="6" height="2.686" fill="#86d8a8"/><rect x="338" y="81.12" width="6" height="2.686" fill="#8ad898"/><rect x="338" y="78.74" width="6" height="2.686" fill="#8ed887"/><rect x="338" y="76.35" width="6" height="2.686" fill="#94d879"/><rect x="338" y="73.96" width="6" height="2.686" fill="#99d86b"/><rect x="338" y="71.58" width="6" height="2.686" fill="#a1d85c"/><rect x="338" y="69.19" width="6" height="2.686" fill="#aad84e"/><rect x="338" y="66.81" width="6" height="2.686" fill="#b8db40"/><rect x="338" y="64.42" width="6" height="2.686" fill="#c4dc39"/><rect x="338" y="62.03" width="6" height="2.686" fill="#d3de34"/><rect x="338" y="59.65" width="6" height="2.686" fill="#e3e22e"/><rect x="338" y="57.26" width="6" height="2.686" fill="#eee42b"/><rect x="338" y="54.88" width="6" height="2.686" fill="#f5e327"/><rect x="338" y="52.49" width="6" height="2.686" fill="#f8dc24"/><rect x="338" y="50.1" width="6" height="2.686" fill="#f8cf21"/><rect x="338" y="47.72" width="6" height="2.686" fill="#f8bc1c"/><rect x="338" y="45.33" width="6" height="2.686" fill="#f8af19"/><rect x="338" y="42.95" width="6" height="2.686" fill="#f7a218"/><rect x="338" y="40.56" width="6" height="2.686" fill="#f49718"/><rect x="338" y="38.17" width="6" height="2.686" fill="#f48c15"/><rect x="338" y="35.79" width="6" height="2.686" fill="#f27e12"/><rect x="338" y="33.4" width="6" height="2.686" fill="#ef6f10"/><rect x="338" y="31.02" width="6" height="2.686" fill="#ed6210"/><rect x="338" y="28.63" width="6" height="2.686" fill="#eb5511"/><rect x="338" y="26.25" width="6" height="2.686" fill="#e94a13"/><rect x="338" y="23.86" width="6" height="2.686" fill="#e74115"/><rect x="338" y="21.47" width="6" height="2.686" fill="#e53b17"/><rect x="338" y="19.09" width="6" height="2.686" fill="#e43518"/><rect x="338" y="16.7" width="6" height="2.686" fill="#e32f18"/><rect x="338" y="14.32" width="6" height="2.686" fill="#da2b18"/><rect x="338" y="11.93" width="6" height="2.686" fill="#ce2718"/><rect x="338" y="9.544" width="6" height="2.686" fill="#c12318"/><rect x="338" y="7.158" width="6" height="2.686" fill="#b01f18"/><rect x="338" y="4.772" width="6" height="2.686" fill="#9c1b18"/><rect x="338" y="2.386" width="6" height="2.686" fill="#891717"/><rect x="338" y="-4" width="6" height="6.686" fill="#7a1414"/><rect x="337" y="339" width="5" height="2.687" fill="#3c2ca0"/><rect x="337" y="336.6" width="5" height="2.687" fill="#3c2ca0"/><rect x="337" y="334.2" width="5" height="2.688" fill="#3c2ca0"/><rect x="337" y="331.8" width="5" height="2.687" fill="#3c2ca0"/><rect x="337" y="329.5" width="5" height="2.687" fill="#3c2ca0"/><rect x="337" y="327.1" width="5" height="2.687" fill="#3c2ca0"/><rect x="337" y="324.7" width="5" height="2.687" fill="#3c2ca0"/><rect x="337" y="322.3" width="5" height="2.688" fill="#3c2ca0"/><rect x="337" y="319.9" width="5" height="2.687" fill="#3c2ca0"/><rect x="337" y="317.5" width="5" height="2.687" fill="#3c2ca2"/><rect x="337" y="315.1" width="5" height="2.687" fill="#3c2ea6"/><rect x="337" y="312.8" width="5" height="2.687" fill="#3d32aa"/><rect x="337" y="310.4" width="5" height="2.688" fill="#4039b1"/><rect x="337" y="308" width="5" height="2.687" fill="#4043b8"/><rect x="337" y="305.6" width="5" height="2.687" fill="#4051c2"/><rect x="337" y="303.2" width="5" height="2.687" fill="#4062c9"/><rect x="337" y="300.8" width="5" height="2.687" fill="#4071d2"/><rect x="337" y="298.4" width="5" height="2.688" fill="#4381d9"/><rect x="337" y="296" width="5" height="2.687" fill="#4892de"/><rect x="337" y="293.6" width="5" height="2.687" fill="#4fa2e1"/><rect x="337" y="291.3" width="5" height="2.687" fill="#58b0e5"/><rect x="337" y="288.9" width="5" height="2.687" fill="#65bde8"/><rect x="337" y="286.5" width="5" height="2.688" fill="#76cbe8"/><rect x="337" y="284.1" width="5" height="2.687" fill="#80d4e3"/><rect x="337" y="281.7" width="5" height="2.687" fill="#83dadb"/><rect x="337" y="279.3" width="5" height="2.687" fill="#84dcd0"/><rect x="337" y="276.9" width="5" height="2.687" fill="#84dbc4"/><rect x="337" y="274.5" width="5" height="2.688" fill="#84d8b6"/><rect x="337" y="272.2" width="5" height="2.687" fill="#86d8a8"/><rect x="337" y="269.8" width="5" height="2.687" fill="#8ad898"/><rect x="337" y="267.4" width="5" height="2.687" fill="#8ed887"/><rect x="337" y="265" width="5" height="2.687" fill="#94d879"/><rect x="337" y="262.6" width="5" height="2.688" fill="#99d86b"/><rect x="337" y="260.2" width="5" height="2.687" fill="#a1d85c"/><rect x="337" y="257.8" width="5" height="2.687" fill="#aad84e"/><rect x="337" y="255.4" width="5" height="2.687" fill="#b8db40"/><rect x="337" y="253.1" width="5" height="2.687" fill="#c4dc39"/><rect x="337" y="250.7" width="5" height="2.688" fill="#d3de34"/><rect x="337" y="248.3" width="5" height="2.687" fill="#e3e22e"/><rect x="337" y="245.9" width="5" height="2.688" fill="#eee42b"/><rect x="337" y="243.5" width="5" height="2.687" fill="#f5e327"/><rect x="337" y="241.1" width="5" height="2.687" fill="#f8dc24"/><rect x="337" y="238.7" width="5" height="2.688" fill="#f8cf21"/><rect x="337" y="236.3" width="5" height="2.687" fill="#f8bc1c"/><rect x="337" y="234" width="5" height="2.688" fill="#f8af19"/><rect x="337" y="231.6" width="5" height="2.687" fill="#f7a218"/><rect x="337" y="229.2" width="5" height="2.687" fill="#f49718"/><rect x="337" y="226.8" width="5" height="2.688" fill="#f48c15"/><rect x="337" y="224.4" width="5" height="2.687" fill="#f27e12"/><rect x="337" y="222" width="5" height="2.688" fill="#ef6f10"/><rect x="337" y="219.6" width="5" height="2.687" fill="#ed6210"/><rect x="337" y="217.2" width="5" height="2.687" fill="#eb5511"/><rect x="337" y="214.9" width="5" height="2.687" fill="#e94a13"/><rect x="337" y="212.5" width="5" height="2.688" fill="#e74115"/><rect x="337" y="210.1" width="5" height="2.687" fill="#e53b17"/><rect x="337" y="207.7" width="5" height="2.688" fill="#e43518"/><rect x="337" y="205.3" width="5" height="2.687" fill="#e32f18"/><rect x="337" y="202.9" width="5" height="2.688" fill="#da2b18"/><rect x="337" y="200.5" width="5" height="2.687" fill="#ce2718"/><rect x="337" y="198.2" width="5" height="2.687" fill="#c12318"/><rect x="337" y="195.8" width="5" height="2.688" fill="#b01f18"/><rect x="337" y="193.4" width="5" height="2.687" fill="#9c1b18"/><rect x="337" y="191" width="5" height="2.688" fill="#891717"/><rect x="337" y="188.6" width="5" height="2.687" fill="#7a1414"/></g><path d="M76.9 152.7L76.9 149.7M76.9 0L76.9 3M127.3 152.7L127.3 149.7M127.3 0L127.3 3M177 152.7L177 149.7M177 0L177 3M227.5 152.7L227.5 149.7M227.5 0L227.5 3M277.3 152.7L277.3 149.7M277.3 0L277.3 3M327.3 152.7L327.3 149.7M327.3 0L327.3 3M29 6.2L32 6.2M336 6.2L333 6.2M29 43.2L32 43.2M336 43.2L333 43.2M29 80.2L32 80.2M336 80.2L333 80.2M29 117.4L32 117.4M336 117.4L333 117.4M57.7 341.2L57.7 338.2M57.7 188.6L57.7 191.6M87.8 341.2L87.8 338.2M87.8 188.6L87.8 191.6M117.9 341.2L117.9 338.2M117.9 188.6L117.9 191.6M148 341.2L148 338.2M148 188.6L148 191.6M178.1 341.2L178.1 338.2M178.1 188.6L178.1 191.6M208.2 341.2L208.2 338.2M208.2 188.6L208.2 191.6M238.3 341.2L238.3 338.2M238.3 188.6L238.3 191.6M268.4 341.2L268.4 338.2M268.4 188.6L268.4 191.6M298.5 341.2L298.5 338.2M298.5 188.6L298.5 191.6M328.6 341.2L328.6 338.2M328.6 188.6L328.6 191.6M28 194.3L31 194.3M334 194.3L331 194.3M28 223.8L31 223.8M334 223.8L331 223.8M28 253.4L31 253.4M334 253.4L331 253.4M28 283L31 283M334 283L331 283M28 312.5L31 312.5M334 312.5L331 312.5M344 5.5L342.3 5.5M344 26.4L342.3 26.4M344 47.3L342.3 47.3M344 68.2L342.3 68.2M344 89.1L342.3 89.1M344 110L342.3 110M344 130.9L342.3 130.9M344 151.8L342.3 151.8M342 211.4L340.3 211.4M342 238.8L340.3 238.8M342 265.4L340.3 265.4M342 292.3L340.3 292.3M342 318.2L340.3 318.2" stroke="#222" stroke-opacity="0.28" stroke-width="0.8" fill="none"/><text x="29" y="163.7" font-size="8" text-anchor="middle">2</text><text x="76.7" y="163.7" font-size="8" text-anchor="middle">2.5</text><text x="127" y="163.7" font-size="8" text-anchor="middle">3</text><text x="177" y="163.7" font-size="8" text-anchor="middle">3.5</text><text x="227.5" y="163.7" font-size="8" text-anchor="middle">4</text><text x="277" y="163.7" font-size="8" text-anchor="middle">4.5</text><text x="327" y="163.7" font-size="8" text-anchor="middle">5</text><text x="26.2" y="8.9" font-size="8" text-anchor="end">1.3</text><text x="26.2" y="45.9" font-size="8" text-anchor="end">1.1</text><text x="26.2" y="82.9" font-size="8" text-anchor="end">0.9</text><text x="26.2" y="120.1" font-size="8" text-anchor="end">0.7</text><text x="26.2" y="156" font-size="8" text-anchor="end">0.5</text><text x="182.5" y="174" font-size="9.3" text-anchor="middle">Device Length (mm)</text><text transform="translate(13.5,76.6) rotate(-90)" font-size="9.25" text-anchor="middle">THz frequency (THz)</text><text x="345.7" y="8.2" font-size="8" text-anchor="start">0.8</text><text x="345.7" y="29.1" font-size="8" text-anchor="start">0.7</text><text x="345.7" y="50" font-size="8" text-anchor="start">0.6</text><text x="345.7" y="70.9" font-size="8" text-anchor="start">0.5</text><text x="345.7" y="91.8" font-size="8" text-anchor="start">0.4</text><text x="345.7" y="112.7" font-size="8" text-anchor="start">0.3</text><text x="345.7" y="133.6" font-size="8" text-anchor="start">0.2</text><text x="345.7" y="154.5" font-size="8" text-anchor="start">0.1</text><text x="31.1" y="11.9" font-size="13" font-weight="bold" style="fill:#fff;stroke:none">(a)</text><text x="28" y="352.5" font-size="8" text-anchor="middle">40</text><text x="58.1" y="352.5" font-size="8" text-anchor="middle">41</text><text x="88.2" y="352.5" font-size="8" text-anchor="middle">42</text><text x="118.3" y="352.5" font-size="8" text-anchor="middle">43</text><text x="148.4" y="352.5" font-size="8" text-anchor="middle">44</text><text x="178.5" y="352.5" font-size="8" text-anchor="middle">45</text><text x="208.6" y="352.5" font-size="8" text-anchor="middle">46</text><text x="238.7" y="352.5" font-size="8" text-anchor="middle">47</text><text x="268.8" y="352.5" font-size="8" text-anchor="middle">48</text><text x="298.9" y="352.5" font-size="8" text-anchor="middle">49</text><text x="329" y="352.5" font-size="8" text-anchor="middle">50</text><text x="25.6" y="196.7" font-size="8" text-anchor="end">2</text><text x="25.6" y="226.5" font-size="8" text-anchor="end">1.8</text><text x="25.6" y="256.4" font-size="8" text-anchor="end">1.6</text><text x="25.6" y="286" font-size="8" text-anchor="end">1.4</text><text x="25.6" y="316.4" font-size="8" text-anchor="end">1.2</text><text x="25.6" y="344.5" font-size="8" text-anchor="end">1</text><text x="180.2" y="363" font-size="9.3" text-anchor="middle">Curve with radius R (mm)</text><text transform="translate(12.5,266.8) rotate(-90)" font-size="9.3" text-anchor="middle">Offset <tspan font-style="italic">δ</tspan> (mm)</text><text x="344.5" y="214.3" font-size="8" text-anchor="start">0.65</text><text x="344.5" y="241.7" font-size="8" text-anchor="start">0.6</text><text x="344.5" y="268.2" font-size="8" text-anchor="start">0.55</text><text x="344.5" y="295.1" font-size="8" text-anchor="start">0.5</text><text x="344.5" y="321" font-size="8" text-anchor="start">0.45</text><text x="29.7" y="200.3" font-size="13" style="fill:#fff;stroke:#fff">(b)</text></svg></body></html>
